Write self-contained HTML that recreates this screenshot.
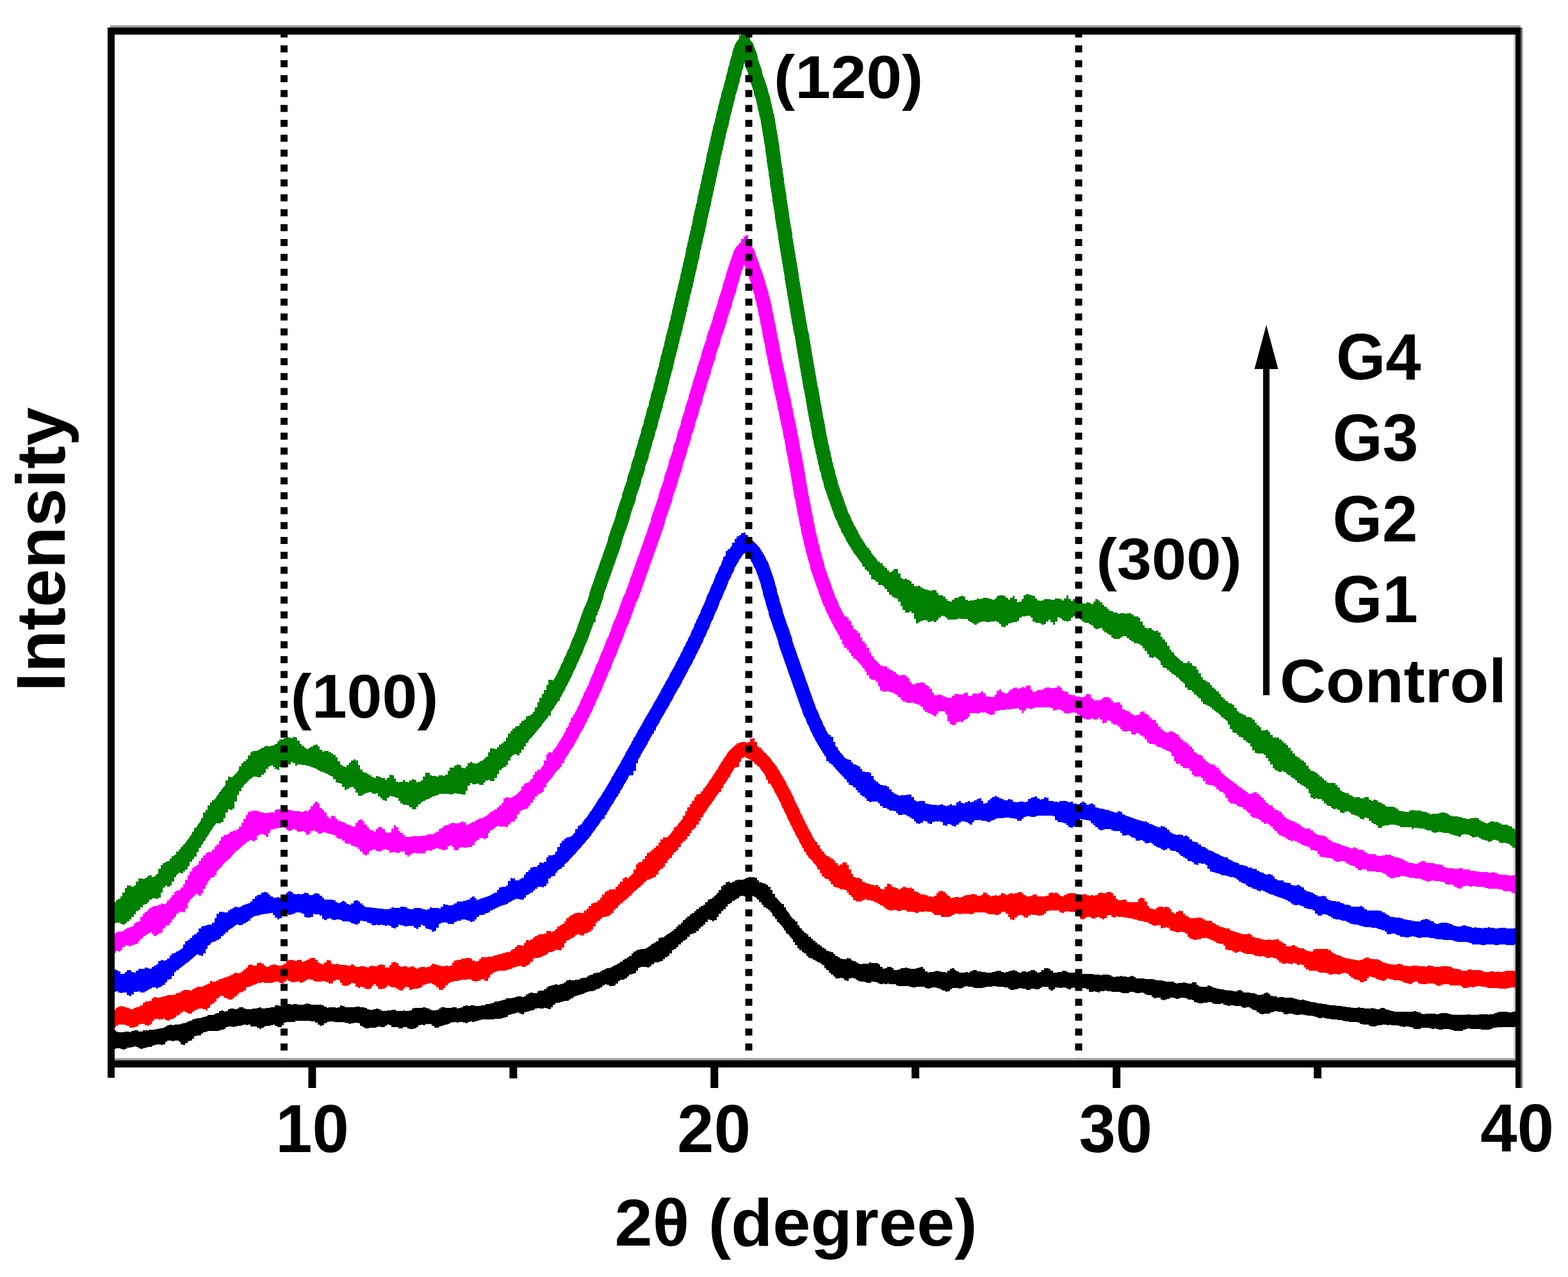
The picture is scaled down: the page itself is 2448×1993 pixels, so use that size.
<!DOCTYPE html>
<html><head><meta charset="utf-8"><title>XRD</title>
<style>html,body{margin:0;padding:0;background:#fff;} svg{display:block;}</style>
</head><body>
<svg width="2448" height="1993" viewBox="0 0 2448 1993">
<rect width="2448" height="1993" fill="#fff"/>
<rect x="2363" y="54" width="3" height="1597" fill="#cfcfcf"/>
<defs><clipPath id="pc"><rect x="179" y="53" width="2187" height="1602"/></clipPath></defs>
<g clip-path="url(#pc)" fill="none" stroke-linejoin="bevel" stroke-linecap="butt">
<g stroke="#000000"><path d="M172 1622l3 0l3 0l3 0l3 0l3 0l3 0l3 0l3 0l3 0l3 0l3 0l3 0l3-1l3 0l3 0l3-1l3 0l3 0l3-1l3 0l3-1l3 0l3-1l3 0l3-1l3 0l2-1l3 0l3-1l3-1l3 0l3-1l3-1l3 0l3-1l3-1l3 0l3-1l3-1l3 0l2-1l3-1l3 0l3-1l3-1l3-1l3 0l3-1l3-1l3 0l3-1l3-1l2 0l3-1l3-1l3 0l3-1l3-1l3 0l3-1l3-1l3 0l3-1l3 0l3-1l3 0l3-1l3 0l3-1l3 0l2-1l3 0l3 0l3-1l3 0l3-1l3 0l3 0l3 0l3-1l3 0l3 0l3 0l3 0l3-1l3 0l3 0l3 0l3 0l3 0l3 0l3 0l3 0l3 0l3 0l3-1l3 0l3 0l3 1l3 0l3 0l3 0l3 0l3 0l3 0l3 0l3 0l3 0l3 0l3 0l3 0l3 1l3 0l3 0l3 0l3 0l3 0l3 0l3 1l3 0l3 0l3 0l3 0l3 0l3 0l3 1l3 0l3 0l3 0l3 0l3 0l3 1l3 0l3 0l3 0l3 0l3 0l3 0l3 0l3 1l3 0l3 0l3 0l3 0l3 0l3 0l3 0l3 0l3 0l3 0l3 0l3 0l3 0l3 0l3 0l3 0l3 0l3 0l3 0l3 0l3 0l3 0l3 0l3 0l3 0l3 0l3 0l3 0l3-1l3 0l3 0l3 0l3 0l3-1l3 0l3 0l3 0l3 0l3-1l3 0l3 0l3-1l3 0l3 0l3 0l3-1l3 0l3 0l3-1l3 0l3-1l3 0l3 0l3-1l3 0l3-1l3 0l3-1l3 0l3-1l3 0l2-1l3 0l3-1l3 0l3-1l3 0l3-1l3 0l3-1l3-1l3 0l3-1l3 0l3-1l3-1l3 0l2-1l3-1l3-1l3 0l3-1l3-1l3 0l3-1l3-1l3-1l3-1l2 0l3-1l3-1l3-1l3-1l3-1l3-1l3 0l2-1l3-1l3-1l3-1l3-1l3-1l2-1l3-1l3-1l3-1l3-1l3-1l2-1l3-1l3-1l3-1l3-2l2-1l3-1l3-1l3-1l2-1l3-1l3-2l3-1l2-1l3-1l3-2l3-1l2-1l3-1l3-2l2-1l3-1l3-2l3-1l2-1l3-2l3-1l2-1l3-2l2-1l3-2l3-1l2-2l3-1l3-2l2-1l3-2l2-1l3-2l2-1l3-2l3-1l2-2l3-2l2-1l3-2l2-1l3-2l2-2l3-1l2-2l3-2l2-2l3-1l2-2l3-2l2-1l2-2l3-2l2-2l3-2l2-1l2-2l3-2l2-2l2-2l3-2l2-1l3-2l2-2l2-2l2-2l3-2l2-2l2-2l3-2l2-2l2-2l2-2l3-2l2-2l2-2l2-2l3-2l2-2l2-2l2-2l2-2l3-2l2-2l2-2l3-2l2-1l2-2l3-2l3-1l2-1l3-1l3-1l3 0l3-1l3 1l3 0l3 1l3 1l3 1l2 1l3 2l2 1l3 2l2 2l3 1l2 2l2 2l2 2l3 3l2 2l2 2l2 2l2 2l2 3l2 2l1 2l2 3l2 2l2 2l2 3l2 2l1 3l2 2l2 2l2 3l2 2l2 2l1 3l2 2l2 2l2 3l2 2l2 2l2 2l2 3l2 2l3 2l2 2l2 2l2 2l2 2l3 2l2 2l2 2l3 2l2 1l2 2l3 2l2 2l3 1l2 2l3 1l3 2l2 1l3 2l3 1l2 1l3 2l3 1l2 1l3 1l3 1l3 1l3 1l3 1l2 1l3 1l3 1l3 1l3 0l3 1l3 1l3 0l3 1l3 1l3 0l2 1l3 0l3 1l3 0l3 1l3 0l3 0l3 1l3 0l3 0l3 1l3 0l3 0l3 0l3 1l3 0l3 0l3 0l3 0l3 1l3 0l3 0l3 0l3 0l3 0l3 0l3 0l3 1l3 0l3 0l3 0l3 0l3 0l3 0l3 0l3 0l3 0l3 0l3 0l3 0l3 1l3 0l3 0l3 0l3 0l3 0l3 0l3 0l3 0l3 0l3 0l3 0l3 0l3 0l3 0l3 0l3 0l3 0l3 0l3 0l3 0l3 0l3 0l3 0l3 0l3 0l3 0l3 0l3 0l3 0l3 0l3 0l3 0l3 0l3 1l3 0l3 0l3 0l3 0l3 0l3 0l3 0l3 0l3 0l3 0l3 0l3 0l3 0l3 0l3 0l3 0l3 0l3 0l3 0l3 0l3 0l3 0l3 1l3 0l3 0l3 0l3 0l3 0l3 0l3 0l3 0l3 0l3 1l3 0l3 0l3 0l3 0l3 0l3 0l3 1l3 0l3 0l3 0l3 0l3 0l3 1l3 0l3 0l3 0l3 0l3 1l3 0l3 0l3 0l3 1l3 0l3 0l3 0l3 1l3 0l3 0l3 0l3 1l3 0l3 0l3 1l3 0l3 0l3 1l3 0l3 0l3 0l3 1l3 0l3 0l3 1l3 0l3 1l3 0l3 0l3 1l3 0l3 0l2 1l3 0l3 0l3 1l3 0l3 1l3 0l3 0l3 1l3 0l3 1l3 0l3 0l3 1l3 0l3 1l3 0l3 0l3 1l3 0l3 1l3 0l3 0l3 1l3 0l3 1l3 0l3 1l3 0l3 0l3 1l3 0l3 1l3 0l3 1l2 0l3 1l3 0l3 0l3 1l3 0l3 1l3 0l3 1l3 0l3 0l3 1l3 0l3 1l3 0l3 1l3 0l3 1l3 0l3 0l3 1l3 0l3 1l3 0l3 1l3 0l3 0l3 1l3 0l3 1l3 0l3 1l2 0l3 0l3 1l3 0l3 1l3 0l3 0l3 1l3 0l3 1l3 0l3 0l3 1l3 0l3 1l3 0l3 0l3 1l3 0l3 0l3 1l3 0l3 1l3 0l3 0l3 1l3 0l3 0l3 1l3 0l3 0l3 1l3 0l3 0l3 1l3 0l3 0l3 1l3 0l3 0l3 0l3 1l3 0l3 0l3 1l3 0l3 0l3 0l2 1l3 0l3 0l3 0l3 1l3 0l3 0l3 0l3 0l3 1l3 0l3 0l3 0l3 0l3 0l3 1l3 0l3 0l3 0l3 0l3 0l3 0l3 1l3 0l3 0l3 0l3 0l3 0l3 0l3 0l3 0l3 0l3 0l3 0l3 0l3 0l3 0l3 0l3 0l3 0l3 0l3 0l3 0l3 0l3 0l3 0l3 0l3 0l3 0l3 0l3 0l3-1l3 0l3 0l3 0l3 0l3 0l3-1l3 0l3 0l3 0l3 0l3-1l3 0l3 0l3 0l3-1l3 0" stroke-width="20.5" stroke-linejoin="round"/><path d="M170 1606l4 0l3 0l0 2l4 0l0 2l3 0l0 1l4 0l3 0l4 0l0-1l3 0l4 0l0 1l3 0l0-2l4 0l0-1l3 0l4 0l0 2l3 0l4 0l0-2l3 0l4 0l3 0l0-1l4 0l0 1l3 0l0-1l4 0l3 0l4 0l0-1l3 0l0-2l4 0l0-2l3 0l0-2l4 0l0-1l3 0l0 1l4 0l0-1l3 0l4 0l3 0l4 0l0-1l3 0l0-2l4 0l0-2l3 0l0-1l4 0l0-2l3 0l0-1l4 0l0-1l3 0l4 0l0-1l3 0l0-1l4 0l0-1l3 0l0-2l4 0l3 0l4 0l0-2l3 0l0-1l4 0l0-3l3 0l0-1l4 0l0 2l3 0l0-1l4 0l0-3l3 0l0-1l4 0l3 0l0 1l4 0l0-1l3 0l0-2l4 0l3 0l0 2l4 0l0 1l3 0l4 0l3 0l0-1l4 0l3 0l0-1l4 0l0-1l3 0l0 2l4 0l3 0l0-1l4 0l3 0l0-1l4 0l3 0l0-3l4 0l3 0l0 1l4 0l3 0l0-1l4 0l0-2l3 0l4 0l0 1l3 0l0-1l4 0l3 0l0 1l4 0l3 0l4 0l0-1l3 0l0-1l4 0l0 1l3 0l0 1l4 0l3 0l4 0l3 0l4 0l0 1l3 0l0 2l4 0l0 2l3 0l0-1l4 0l3 0l4 0l0 1l3 0l0-1l4 0l0-3l3 0l0 1l4 0l0 2l3 0l4 0l3 0l4 0l3 0l0-1l4 0l3 0l0 1l4 0l3 0l0 1l4 0l0 2l3 0l0 1l4 0l3 0l0-1l4 0l0-1l3 0l0 1l4 0l0 2l3 0l0 2l4 0l0-1l3 0l0-1l4 0l3 0l0-1l4 0l3 0l0 2l4 0l0 1l3 0l4 0l0-2l3 0l0 1l4 0l0 1l3 0l0-2l4 0l0-3l3 0l0-1l4 0l3 0l4 0l3 0l0-1l4 0l0 1l3 0l0 1l4 0l0 2l3 0l0 1l4 0l0 1l3 0l0-2l4 0l0-2l3 0l0-2l4 0l3 0l0 1l4 0l3 0l4 0l0-1l3 0l4 0l0 2l3 0l0-1l4 0l0-1l3 0l0-2l4 0l0-1l3 0l0 1l4 0l0-1l3 0l4 0l0 1l3 0l4 0l3 0l0-1l4 0l3 0l0-2l4 0l3 0l0-1l4 0l0-1l3 0l0-2l4 0l3 0l0-1l4 0l0-1l3 0l0-1l4 0l0-2l3 0l4 0l3 0l0-1l4 0l0-1l3 0l0-1l4 0l3 0l0 1l4 0l0-1l3 0l0-3l4 0l0-2l3 0l0-1l4 0l0 1l3 0l4 0l0-3l3 0l0-1l4 0l3 0l0-2l4 0l0-3l3 0l0-2l4 0l0-1l3 0l0-1l4 0l0-1l3 0l0 1l4 0l0-1l3 0l0-1l4 0l0-2l3 0l0-3l4 0l0-1l3 0l0 1l4 0l3 0l0-1l4 0l3 0l0-2l4 0l0-1l3 0l4 0l0-2l3 0l0-2l4 0l0-1l3 0l0-2l4 0l0-1l3 0l4 0l0-2l3 0l0-2l4 0l0-2l3 0l0-1l4 0l3 0l0-1l4 0l0-2l3 0l0-2l4 0l0-2l3 0l0-3l4 0l0-3l3 0l0-2l4 0l0-2l3 0l0-2l4 0l0-4l3 0l0-3l4 0l0-2l3 0l0-1l4 0l0-1l3 0l4 0l0 1l3 0l0-2l4 0l0-4l3 0l0-3l4 0l0-2l3 0l0-2l4 0l0-5l3 0l0-1l4 0l0 1l3 0l0-3l4 0l0-2l3 0l0-3l4 0l0-3l3 0l0-3l4 0l0-4l3 0l0-3l4 0l0-3l3 0l0-4l4 0l0-3l3 0l0-3l4 0l0-3l3 0l0-2l4 0l0-3l3 0l0-3l4 0l0-3l3 0l0-2l4 0l0-2l3 0l0-4l4 0l0-4l3 0l0-1l4 0l0-2l3 0l0-3l4 0l0-4l3 0l0-5l4 0l0-6l3 0l0-2l4 0l0-4l3 0l0-1l4 0l0 2l3 0l0-2l4 0l0-2l3 0l0-1l4 0l3 0l4 0l0-1l3 0l0-2l4 0l0-1l3 0l4 0l3 0l0 1l4 0l0 4l3 0l0 3l4 0l0 1l3 0l0 1l4 0l0 2l3 0l0 3l4 0l0 5l3 0l0 6l4 0l0 6l3 0l0 5l4 0l0 3l3 0l0 2l4 0l0 5l3 0l0 7l4 0l0 6l3 0l0 4l4 0l0 2l3 0l0 3l4 0l0 6l3 0l0 5l4 0l0 4l3 0l0 3l4 0l0 2l3 0l0 4l4 0l0 3l3 0l0 3l4 0l0 3l3 0l0 3l4 0l0 2l3 0l0 3l4 0l0 2l3 0l0 3l4 0l0 1l3 0l0 1l4 0l0 3l3 0l0 3l4 0l0 2l3 0l0 2l4 0l0 1l3 0l4 0l0-2l3 0l0 1l4 0l0 3l3 0l0 1l4 0l0 2l3 0l0 2l4 0l0 1l3 0l0-1l4 0l3 0l4 0l0-2l3 0l0 1l4 0l3 0l4 0l0 2l3 0l0 4l4 0l0 3l3 0l0-1l4 0l0-2l3 0l4 0l0 2l3 0l0 3l4 0l3 0l0-1l4 0l0-2l3 0l4 0l0-1l3 0l0 1l4 0l0 1l3 0l4 0l3 0l0-1l4 0l0-1l3 0l0-1l4 0l0 3l3 0l0 4l4 0l0 2l3 0l0-1l4 0l3 0l0-1l4 0l0-1l3 0l0 1l4 0l0 1l3 0l4 0l0 1l3 0l0-3l4 0l0-3l3 0l0-1l4 0l0 3l3 0l0 2l4 0l0 2l3 0l4 0l3 0l0-1l4 0l0 1l3 0l0-2l4 0l0-2l3 0l4 0l0 2l3 0l4 0l0 1l3 0l4 0l0 1l3 0l4 0l3 0l0-1l4 0l0-1l3 0l0-1l4 0l3 0l0 2l4 0l0 1l3 0l0-1l4 0l0-1l3 0l0-1l4 0l0-1l3 0l0 1l4 0l0 2l3 0l0 1l4 0l0-2l3 0l4 0l0 1l3 0l0-1l4 0l0-2l3 0l4 0l0 2l3 0l0 2l4 0l0-1l3 0l0-3l4 0l0-3l3 0l4 0l0 1l3 0l0 3l4 0l0 3l3 0l4 0l0-1l3 0l4 0l0-2l3 0l4 0l0 2l3 0l0 1l4 0l3 0l4 0l0 1l3 0l0 1l4 0l0 1l3 0l0-1l4 0l3 0l4 0l3 0l4 0l0 1l3 0l4 0l3 0l0 1l4 0l0-1l3 0l4 0l3 0l0 1l4 0l0 2l3 0l0 1l4 0l0-1l3 0l4 0l0-1l3 0l0 1l4 0l3 0l0 1l4 0l0-1l3 0l0-1l4 0l0 2l3 0l0 2l4 0l3 0l4 0l3 0l0 1l4 0l3 0l4 0l3 0l0 1l4 0l0 1l3 0l4 0l3 0l0 1l4 0l0 1l3 0l4 0l3 0l4 0l0 2l3 0l0 1l4 0l0-1l3 0l4 0l0-1l3 0l0 1l4 0l0 1l3 0l4 0l0-2l3 0l4 0l0 4l3 0l0 3l4 0l0 1l3 0l0-1l4 0l3 0l0-2l4 0l0 1l3 0l0 2l4 0l0 1l3 0l0 1l4 0l0 1l3 0l4 0l0 1l3 0l0 1l4 0l3 0l4 0l0 1l3 0l0 1l4 0l0-2l3 0l0-1l4 0l0 2l3 0l0 2l4 0l3 0l4 0l0 1l3 0l4 0l0 1l3 0l0 2l4 0l3 0l0-1l4 0l0-2l3 0l0-1l4 0l0 2l3 0l0 3l4 0l0 1l3 0l4 0l0 2l3 0l0-1l4 0l3 0l0 1l4 0l3 0l4 0l3 0l0 1l4 0l0 1l3 0l0 1l4 0l0 1l3 0l0-1l4 0l0 1l3 0l0 1l4 0l0 1l3 0l0 1l4 0l3 0l0 1l4 0l0 1l3 0l4 0l0 1l3 0l4 0l0 1l3 0l0 1l4 0l3 0l4 0l0 1l3 0l4 0l3 0l0 1l4 0l3 0l0 1l4 0l3 0l0 1l4 0l3 0l4 0l0-1l3 0l0 1l4 0l3 0l0 1l4 0l3 0l4 0l0-1l3 0l0 1l4 0l0 1l3 0l4 0l0-2l3 0l4 0l0 2l3 0l0 1l4 0l0 1l3 0l0 1l4 0l0 1l3 0l4 0l3 0l4 0l3 0l4 0l3 0l4 0l3 0l0-1l4 0l0 1l3 0l0 1l4 0l0 2l3 0l0 1l4 0l0-1l3 0l4 0l3 0l4 0l3 0l0 1l4 0l0-1l3 0l0-1l4 0l3 0l4 0l0 1l3 0l0 1l4 0l0 1l3 0l4 0l3 0l4 0l3 0l4 0l3 0l0-1l4 0l0 1l3 0l4 0l3 0l4 0l0-1l3 0l4 0l3 0l4 0l0 1l3 0l0-1l4 0l3 0l0-2l4 0l0-1l3 0l0-1l4 0l3 0l4 0l3 0l0 1l4 0l3 0l0-1l4 0l0-1l3 0l0 1l4 0l3 0l4 0l0 23l-4 0l-3 0l-4 0l-3 0l0 1l-4 0l-3 0l-4 0l-3 0l-4 0l-3 0l-4 0l-3 0l0 1l-4 0l-3 0l0 2l-4 0l0 1l-3 0l-4 0l-3 0l-4 0l0-1l-3 0l-4 0l-3 0l-4 0l-3 0l0-1l-4 0l0 1l-3 0l0 1l-4 0l0 2l-3 0l-4 0l-3 0l-4 0l0-1l-3 0l0-1l-4 0l0-1l-3 0l-4 0l-3 0l0 1l-4 0l-3 0l0-1l-4 0l0-1l-3 0l0 1l-4 0l0-1l-3 0l0-1l-4 0l-3 0l-4 0l-3 0l0 2l-4 0l-3 0l-4 0l0-2l-3 0l0-1l-4 0l0-1l-3 0l-4 0l0 1l-3 0l0-1l-4 0l0-1l-3 0l0-1l-4 0l-3 0l-4 0l0-1l-3 0l0 1l-4 0l0-1l-3 0l-4 0l0 1l-3 0l-4 0l0 1l-3 0l0 1l-4 0l-3 0l0-1l-4 0l0-2l-3 0l-4 0l-3 0l0-1l-4 0l0-2l-3 0l0-1l-4 0l-3 0l-4 0l-3 0l0-1l-4 0l-3 0l0-1l-4 0l0-1l-3 0l-4 0l0-1l-3 0l-4 0l-3 0l0-1l-4 0l-3 0l0-1l-4 0l0-1l-3 0l0 1l-4 0l-3 0l0-2l-4 0l0-1l-3 0l0-1l-4 0l-3 0l0-1l-4 0l0-1l-3 0l-4 0l-3 0l0 1l-4 0l-3 0l0-1l-4 0l0-1l-3 0l-4 0l0 1l-3 0l-4 0l0-3l-3 0l0-1l-4 0l-3 0l0-1l-4 0l0 1l-3 0l0 1l-4 0l0 2l-3 0l-4 0l-3 0l0 1l-4 0l0-1l-3 0l0-2l-4 0l0-3l-3 0l0-1l-4 0l0-2l-3 0l0-2l-4 0l-3 0l0 1l-4 0l0-1l-3 0l0-2l-4 0l-3 0l-4 0l0-1l-3 0l-4 0l0 1l-3 0l0-1l-4 0l0-1l-3 0l0-2l-4 0l0 1l-3 0l-4 0l-3 0l0-1l-4 0l0-2l-3 0l-4 0l0 1l-3 0l-4 0l0 1l-3 0l-4 0l0-1l-3 0l0-1l-4 0l0-3l-3 0l0-1l-4 0l-3 0l0-2l-4 0l0-1l-3 0l-4 0l0 1l-3 0l0 1l-4 0l0-1l-3 0l0-1l-4 0l-3 0l0 2l-4 0l0 1l-3 0l0 1l-4 0l0-1l-3 0l0-3l-4 0l-3 0l0 1l-4 0l0-2l-3 0l0-3l-4 0l-3 0l0-1l-4 0l0-3l-3 0l-4 0l0 1l-3 0l-4 0l0-1l-3 0l0-1l-4 0l-3 0l0 2l-4 0l-3 0l-4 0l0-1l-3 0l0-1l-4 0l-3 0l-4 0l-3 0l0-1l-4 0l-3 0l0-1l-4 0l0 1l-3 0l-4 0l0 2l-3 0l0-1l-4 0l0-1l-3 0l0 1l-4 0l-3 0l0-4l-4 0l0-2l-3 0l-4 0l0 1l-3 0l0-1l-4 0l0-1l-3 0l0-1l-4 0l0 2l-3 0l0 2l-4 0l0-1l-3 0l0-2l-4 0l-3 0l0 1l-4 0l0-1l-3 0l-4 0l0 3l-3 0l0 2l-4 0l0-2l-3 0l0-4l-4 0l0-1l-3 0l0 1l-4 0l0 2l-3 0l0 2l-4 0l-3 0l0-1l-4 0l-3 0l0 2l-4 0l-3 0l0-2l-4 0l-3 0l0-1l-4 0l0 1l-3 0l0 1l-4 0l0 1l-3 0l-4 0l0-2l-3 0l0-2l-4 0l-3 0l0-1l-4 0l-3 0l-4 0l0-1l-3 0l-4 0l0 1l-3 0l-4 0l-3 0l0 1l-4 0l0 1l-3 0l-4 0l-3 0l-4 0l0-1l-3 0l0-1l-4 0l-3 0l0-1l-4 0l0 1l-3 0l0 2l-4 0l0 1l-3 0l0-1l-4 0l-3 0l-4 0l0 2l-3 0l0 3l-4 0l0 1l-3 0l0-2l-4 0l0-1l-3 0l0-2l-4 0l0-1l-3 0l0-1l-4 0l-3 0l0 1l-4 0l0 1l-3 0l0-1l-4 0l0-2l-3 0l-4 0l-3 0l-4 0l0 1l-3 0l-4 0l0-1l-3 0l0-1l-4 0l-3 0l-4 0l-3 0l-4 0l0-1l-3 0l0-2l-4 0l-3 0l-4 0l0-1l-3 0l0 1l-4 0l0-1l-3 0l0 1l-4 0l0-1l-3 0l0-2l-4 0l0-1l-3 0l-4 0l0 2l-3 0l-4 0l0-1l-3 0l0-1l-4 0l-3 0l0-1l-4 0l0-2l-3 0l0-2l-4 0l0-1l-3 0l0 1l-4 0l0 4l-3 0l0-1l-4 0l0-3l-3 0l0-1l-4 0l0 1l-3 0l-4 0l0-3l-3 0l0-3l-4 0l0-3l-3 0l0-4l-4 0l0-3l-3 0l0-5l-4 0l0-3l-3 0l0-1l-4 0l0-2l-3 0l0-2l-4 0l0-2l-3 0l0-1l-4 0l0-3l-3 0l0-4l-4 0l0-2l-3 0l0-3l-4 0l0-3l-3 0l0-5l-4 0l0-5l-3 0l0-7l-4 0l0-4l-3 0l0-2l-4 0l0-5l-3 0l0-7l-4 0l0-4l-3 0l0-2l-4 0l0-5l-3 0l0-4l-4 0l0-6l-3 0l0-4l-4 0l0-2l-3 0l0-2l-4 0l0-4l-3 0l0-4l-4 0l0-4l-3 0l0-4l-4 0l0-2l-3 0l0 1l-4 0l-3 0l-4 0l-3 0l0-1l-4 0l0 1l-3 0l0 3l-4 0l0 2l-3 0l0 2l-4 0l0 3l-3 0l0 2l-4 0l0 4l-3 0l0 4l-4 0l0 3l-3 0l0 4l-4 0l0 5l-3 0l0 5l-4 0l0 2l-3 0l0-2l-4 0l0-1l-3 0l0 4l-4 0l0 4l-3 0l0 3l-4 0l0 3l-3 0l0 4l-4 0l0 3l-3 0l0 1l-4 0l0 1l-3 0l0 4l-4 0l0 4l-3 0l0 2l-4 0l0 3l-3 0l0 3l-4 0l0 4l-3 0l0 3l-4 0l0 2l-3 0l0 5l-4 0l0 4l-3 0l0 2l-4 0l0 3l-3 0l0 3l-4 0l0 1l-3 0l0 1l-4 0l-3 0l0 3l-4 0l0 3l-3 0l0 2l-4 0l0-1l-3 0l-4 0l-3 0l0 1l-4 0l0 5l-3 0l0 4l-4 0l0 1l-3 0l0 1l-4 0l0 3l-3 0l0 3l-4 0l0 2l-3 0l-4 0l0 2l-3 0l0 4l-4 0l0 3l-3 0l0 1l-4 0l-3 0l0-2l-4 0l0-1l-3 0l0 2l-4 0l0 3l-3 0l0 2l-4 0l0 1l-3 0l0 2l-4 0l0 1l-3 0l-4 0l0 1l-3 0l0 1l-4 0l0 2l-3 0l0 1l-4 0l0 1l-3 0l-4 0l0 2l-3 0l0 3l-4 0l0 2l-3 0l0 2l-4 0l-3 0l0 1l-4 0l0 1l-3 0l0 1l-4 0l-3 0l0 3l-4 0l0 4l-3 0l0 3l-4 0l0-1l-3 0l0-1l-4 0l0 1l-3 0l-4 0l0-1l-3 0l0 1l-4 0l0 2l-3 0l0 1l-4 0l0 1l-3 0l0 1l-4 0l0 1l-3 0l0 3l-4 0l0-1l-3 0l0-2l-4 0l0 1l-3 0l0 1l-4 0l0 1l-3 0l0 1l-4 0l0 3l-3 0l0 1l-4 0l0 1l-3 0l0 1l-4 0l-3 0l-4 0l0 1l-3 0l-4 0l-3 0l-4 0l-3 0l-4 0l0 1l-3 0l0 1l-4 0l0 1l-3 0l0 1l-4 0l0-1l-3 0l0 1l-4 0l0 2l-3 0l0-1l-4 0l0-1l-3 0l-4 0l0 1l-3 0l0-1l-4 0l-3 0l-4 0l0 3l-3 0l0 1l-4 0l0 1l-3 0l0 1l-4 0l0 1l-3 0l0 2l-4 0l-3 0l0-3l-4 0l0-3l-3 0l0-1l-4 0l0 1l-3 0l0 2l-4 0l0-1l-3 0l0 1l-4 0l0 3l-3 0l0 2l-4 0l0 1l-3 0l-4 0l0-1l-3 0l0-2l-4 0l-3 0l0 2l-4 0l-3 0l0-2l-4 0l-3 0l-4 0l0-3l-3 0l0-1l-4 0l0 2l-3 0l0 2l-4 0l-3 0l0-1l-4 0l0 1l-3 0l0 1l-4 0l-3 0l-4 0l0 1l-3 0l-4 0l0-2l-3 0l0-2l-4 0l0-4l-3 0l0-1l-4 0l-3 0l0 1l-4 0l0 1l-3 0l0-1l-4 0l0-1l-3 0l0-1l-4 0l0-1l-3 0l-4 0l0 1l-3 0l0-1l-4 0l-3 0l-4 0l0 1l-3 0l0 2l-4 0l0 3l-3 0l0 1l-4 0l0-2l-3 0l0-3l-4 0l0-2l-3 0l-4 0l0-1l-3 0l0-1l-4 0l0-1l-3 0l0-1l-4 0l0 1l-3 0l-4 0l0 2l-3 0l0 2l-4 0l-3 0l-4 0l-3 0l0 1l-4 0l0 4l-3 0l0 3l-4 0l-3 0l0-2l-4 0l0-2l-3 0l0 1l-4 0l0 1l-3 0l-4 0l0 1l-3 0l0 2l-4 0l0 2l-3 0l0-2l-4 0l0-2l-3 0l-4 0l-3 0l0-3l-4 0l0 1l-3 0l0-1l-4 0l0 1l-3 0l0 1l-4 0l-3 0l0 1l-4 0l0 1l-3 0l0-1l-4 0l0-1l-3 0l0 2l-4 0l0 3l-3 0l0 1l-4 0l0 1l-3 0l0 1l-4 0l-3 0l-4 0l-3 0l-4 0l0 1l-3 0l0 1l-4 0l0 2l-3 0l0 3l-4 0l-3 0l0 1l-4 0l0 4l-3 0l0 3l-4 0l0 1l-3 0l0 3l-4 0l0 3l-3 0l0-1l-4 0l0-4l-3 0l0-2l-4 0l-3 0l0 1l-4 0l0-1l-3 0l-4 0l0 2l-3 0l0 4l-4 0l0 1l-3 0l0-1l-4 0l-3 0l0 1l-4 0l0 1l-3 0l0 2l-4 0l-3 0l0 1l-4 0l0 1l-3 0l0 1l-4 0l0-1l-3 0l0-2l-4 0l0-1l-3 0l0 1l-4 0l0 1l-3 0l-4 0l0 2l-3 0l0 1l-4 0l0-1l-3 0l0-1l-4 0l-3 0l0 1l-4 0l0 2l-3 0l0-1l-4 0z" stroke="none" fill="#000000"/></g>
<g stroke="#ff0000"><path d="M172 1588l3 0l3 0l3 0l3 0l3 0l3 0l3 0l3-1l3 0l3 0l3-1l3 0l3 0l3-1l3 0l2-1l3 0l3-1l3-1l3 0l3-1l3-1l3-1l3 0l3-1l3-1l2-1l3-1l3-1l3-1l3-1l3-1l2-1l3-1l3-1l3-1l3-1l3-1l2-1l3-1l3-1l3-1l3-1l2-2l3-1l3-1l3-1l2-1l3-1l3-1l3-1l3-2l2-1l3-1l3-1l3-1l2-1l3-1l3-1l3-1l3-1l2-1l3-2l3-1l3-1l3-1l3 0l2-1l3-1l3-1l3-1l3-1l3-1l3-1l3 0l3-1l2-1l3 0l3-1l3-1l3 0l3-1l3 0l3-1l3 0l3-1l3 0l3 0l3-1l3 0l3 0l3-1l3 0l3 0l3 0l3-1l3 0l3 0l3 0l3 0l3 0l3 0l3 0l3 0l3 0l3 0l3 0l3 0l3 0l3 0l3 0l3 0l3 0l3 0l3 0l3 0l3 0l3 1l3 0l3 0l3 0l3 0l3 0l3 1l3 0l3 0l3 0l3 0l3 0l3 1l3 0l3 0l3 0l3 0l3 1l3 0l3 0l3 0l3 0l3 1l3 0l3 0l3 0l3 0l3 1l3 0l3 0l3 0l3 0l3 0l3 0l3 0l3 1l3 0l3 0l3 0l3 0l3 0l3 0l3 0l3 0l3 0l3 0l3 0l3 0l3 0l3 0l3 0l3 0l3-1l3 0l3 0l3 0l3 0l3-1l3 0l3 0l3 0l3-1l3 0l2 0l3-1l3 0l3-1l3 0l3-1l3 0l3-1l3 0l3-1l3 0l3-1l3-1l3 0l3-1l3-1l3 0l3-1l2-1l3-1l3 0l3-1l3-1l3-1l3-1l3-1l2-1l3 0l3-1l3-1l3-1l3-1l2-1l3-1l3-1l3-2l3-1l2-1l3-1l3-1l3-1l3-1l2-2l3-1l3-1l3-1l2-1l3-2l3-1l2-1l3-2l3-1l2-1l3-2l3-1l2-1l3-2l3-1l2-2l3-1l3-2l2-1l3-2l2-1l3-2l3-1l2-2l3-1l2-2l3-1l2-2l3-2l2-1l3-2l3-1l2-2l3-2l2-1l2-2l3-2l2-2l3-1l2-2l3-2l2-2l3-1l2-2l2-2l3-2l2-2l3-1l2-2l2-2l3-2l2-2l2-2l3-2l2-1l2-2l3-2l2-2l2-2l2-2l3-2l2-2l2-2l2-2l3-2l2-2l2-2l2-2l2-2l3-2l2-2l2-2l2-2l2-3l2-2l3-2l2-2l2-2l2-2l2-2l2-2l2-3l2-2l2-2l2-2l2-2l3-3l2-2l2-2l2-2l2-2l2-3l2-2l1-2l2-2l2-3l2-2l2-2l2-3l2-2l2-2l2-3l2-2l2-2l1-3l2-2l2-2l2-3l2-2l2-3l1-2l2-2l2-3l2-2l2-3l1-2l2-2l2-3l2-2l1-3l2-2l2-3l2-2l1-3l2-2l2-2l1-3l2-2l2-3l1-2l2-3l2-2l1-3l2-2l2-3l1-2l2-3l2-2l1-3l2-2l2-3l1-3l2-2l1-3l2-2l2-3l1-2l2-3l2-2l1-3l2-2l2-2l2-2l3-2l2-2l3-1l3 0l3 0l3 0l3 1l2 2l3 1l2 2l3 2l2 2l2 2l3 2l2 2l2 2l2 2l2 3l1 2l2 2l2 3l2 2l1 3l2 2l2 3l1 2l2 3l1 3l2 2l1 3l2 2l1 3l1 3l2 2l1 3l2 3l1 2l1 3l2 3l1 2l1 3l1 3l2 3l1 2l1 3l2 3l1 2l1 3l1 3l2 3l1 2l1 3l2 3l1 2l1 3l2 3l1 2l1 3l2 3l1 2l2 3l1 3l1 2l2 3l1 2l2 3l2 3l1 2l2 3l2 2l1 3l2 2l2 2l2 3l2 2l2 2l2 3l2 2l2 2l2 2l2 2l2 2l2 2l3 2l2 2l2 2l3 2l2 1l3 2l2 2l3 1l2 2l3 2l2 1l3 2l3 1l2 1l3 2l3 1l2 1l3 1l3 2l3 1l2 1l3 1l3 1l3 1l3 1l2 1l3 1l3 1l3 1l3 1l3 0l3 1l3 1l3 1l2 0l3 1l3 1l3 0l3 1l3 1l3 0l3 1l3 0l3 1l3 0l3 1l3 0l3 0l3 1l3 0l3 0l3 1l3 0l3 0l3 1l3 0l3 0l3 0l3 0l3 1l3 0l3 0l3 0l3 0l3 0l3 0l3 0l3 0l3 0l3 0l3 0l3 0l3 0l3 0l3 0l3 0l3 0l3 0l3 0l3 0l3 0l3 0l3 0l3 0l3 0l3 0l3-1l3 0l3 0l3 0l3 0l3 0l3 0l3 0l3 0l3-1l3 0l3 0l3 0l3 0l3 0l3 0l3 0l3-1l3 0l3 0l3 0l3 0l3 0l3 0l3 0l3 0l3 0l3 0l3 0l3 0l3 0l3 0l3 0l3 0l3 0l3 0l3 0l3 0l3 0l3 0l3 0l3 0l3 0l3 0l3 1l3 0l3 0l3 0l3 0l3 1l3 0l3 0l3 0l2 1l3 0l3 0l3 1l3 0l3 0l3 1l3 0l3 1l3 0l3 1l3 0l3 1l3 0l3 1l3 0l3 1l3 0l3 1l3 0l3 1l3 0l3 1l3 1l3 0l2 1l3 1l3 0l3 1l3 1l3 0l3 1l3 1l3 0l3 1l3 1l3 1l2 0l3 1l3 1l3 1l3 0l3 1l3 1l3 1l3 0l3 1l2 1l3 1l3 1l3 0l3 1l3 1l3 1l3 1l3 1l2 0l3 1l3 1l3 1l3 1l3 1l3 0l3 1l2 1l3 1l3 1l3 1l3 1l3 0l3 1l3 1l2 1l3 1l3 1l3 0l3 1l3 1l3 1l3 1l3 1l2 1l3 0l3 1l3 1l3 1l3 1l3 1l3 0l2 1l3 1l3 1l3 1l3 0l3 1l3 1l3 1l3 0l3 1l2 1l3 1l3 0l3 1l3 1l3 1l3 0l3 1l3 1l3 1l3 0l2 1l3 1l3 0l3 1l3 0l3 1l3 1l3 0l3 1l3 1l3 0l3 1l3 0l3 1l3 1l2 0l3 1l3 0l3 1l3 0l3 1l3 0l3 1l3 0l3 1l3 0l3 1l3 0l3 1l3 0l3 1l3 0l3 1l3 0l3 1l3 0l3 0l3 1l3 0l3 1l3 0l2 1l3 0l3 0l3 1l3 0l3 0l3 1l3 0l3 0l3 1l3 0l3 1l3 0l3 0l3 0l3 1l3 0l3 0l3 1l3 0l3 0l3 1l3 0l3 0l3 0l3 1l3 0l3 0l3 0l3 1l3 0l3 0l3 0l3 1l3 0l3 0l3 0l3 1l3 0l3 0l3 0l3 0l3 1l3 0l3 0l3 0l3 0l3 0l3 1l3 0l3 0l3 0l3 0l3 0l3 1l3 0l3 0l3 0l3 0l3 0l3 0l3 1l3 0l3 0l3 0l3 0l3 0l3 0l3 0l3 0l3 1l3 0l3 0l3 0l3 0l3 0l3 0l3 0" stroke-width="22" stroke-linejoin="round"/><path d="M170 1576l4 0l3 0l4 0l0-3l3 0l0-2l4 0l0-1l3 0l0 1l4 0l0 1l3 0l0 1l4 0l0 2l3 0l4 0l0-2l3 0l0-1l4 0l0-1l3 0l0-2l4 0l0-4l3 0l0-2l4 0l3 0l0-1l4 0l0-4l3 0l0-2l4 0l0 1l3 0l4 0l0-1l3 0l0-1l4 0l0-1l3 0l0-1l4 0l3 0l4 0l0-1l3 0l0-2l4 0l0-1l3 0l0-2l4 0l0-2l3 0l4 0l3 0l0 1l4 0l0-2l3 0l0-2l4 0l0-2l3 0l4 0l3 0l0 1l4 0l0-1l3 0l0-5l4 0l0-4l3 0l0 1l4 0l3 0l0-2l4 0l0-2l3 0l4 0l3 0l0-2l4 0l0-2l3 0l0-2l4 0l0-2l3 0l0-2l4 0l0 1l3 0l0 1l4 0l0-4l3 0l0-3l4 0l0-3l3 0l0-4l4 0l0-1l3 0l0 2l4 0l3 0l0-4l4 0l0-1l3 0l0 2l4 0l0 3l3 0l0 2l4 0l0-1l3 0l0-2l4 0l0-1l3 0l0 1l4 0l0 1l3 0l0 1l4 0l0-2l3 0l0-2l4 0l0-4l3 0l0-2l4 0l3 0l0 1l4 0l0 1l3 0l0-2l4 0l3 0l0 3l4 0l0-1l3 0l0-2l4 0l0-2l3 0l0-1l4 0l3 0l0 3l4 0l0 4l3 0l0 2l4 0l0 1l3 0l0-3l4 0l0-4l3 0l0 1l4 0l0 5l3 0l0 1l4 0l0-1l3 0l0 1l4 0l0 1l3 0l4 0l3 0l0 1l4 0l3 0l0-2l4 0l0 2l3 0l0 3l4 0l3 0l0-2l4 0l3 0l0 1l4 0l0 1l3 0l0-2l4 0l0-1l3 0l0 1l4 0l3 0l0-2l4 0l0-1l3 0l0 1l4 0l0 4l3 0l4 0l0-4l3 0l0-4l4 0l0-1l3 0l0 2l4 0l0 4l3 0l0 2l4 0l0-1l3 0l4 0l0 2l3 0l0-1l4 0l0-1l3 0l0 2l4 0l0 2l3 0l0-2l4 0l0-1l3 0l4 0l0 1l3 0l0-1l4 0l0-2l3 0l0-3l4 0l0 1l3 0l0 1l4 0l0 1l3 0l0 1l4 0l3 0l0-1l4 0l0 1l3 0l0-1l4 0l0-5l3 0l0-3l4 0l0-1l3 0l4 0l0-2l3 0l4 0l0-1l3 0l4 0l0 1l3 0l0 3l4 0l0 2l3 0l0-1l4 0l0-3l3 0l0-3l4 0l3 0l4 0l0-1l3 0l4 0l0-1l3 0l0-1l4 0l0-1l3 0l0-1l4 0l0-1l3 0l0-1l4 0l0-1l3 0l4 0l0-3l3 0l0-2l4 0l0-3l3 0l0-3l4 0l3 0l0 1l4 0l0-4l3 0l0-5l4 0l0 1l3 0l0-2l4 0l0-3l3 0l0-2l4 0l0-2l3 0l0-1l4 0l3 0l0-1l4 0l0-4l3 0l4 0l0 2l3 0l0-2l4 0l0-3l3 0l0-4l4 0l0-2l3 0l0-2l4 0l0-4l3 0l0-5l4 0l0-3l3 0l0-2l4 0l0-2l3 0l0-1l4 0l0-1l3 0l0 1l4 0l3 0l0-4l4 0l0-3l3 0l0-4l4 0l0-4l3 0l0-1l4 0l0-1l3 0l0-3l4 0l0-4l3 0l0-5l4 0l0-4l3 0l0-2l4 0l0-2l3 0l4 0l3 0l0-4l4 0l0-4l3 0l0-4l4 0l0-5l3 0l0-2l4 0l0 2l3 0l0-3l4 0l0-3l3 0l0-8l4 0l0-8l3 0l0-3l4 0l0-1l3 0l0-4l4 0l0-5l3 0l0-5l4 0l0-2l3 0l0-3l4 0l0-3l3 0l0-3l4 0l0-5l3 0l0-5l4 0l0-3l3 0l4 0l0-1l3 0l0-3l4 0l0-6l3 0l0-6l4 0l0-2l3 0l0-3l4 0l0-6l3 0l0-7l4 0l0-7l3 0l0-6l4 0l0-5l3 0l0-5l4 0l0-6l3 0l0-4l4 0l0-1l3 0l0-4l4 0l0-5l3 0l0-3l4 0l0-2l3 0l0-6l4 0l0-5l3 0l0-4l4 0l0-4l3 0l0-7l4 0l0-9l3 0l0-6l4 0l0-3l3 0l0-5l4 0l0-5l3 0l0-4l4 0l0-4l3 0l0-3l4 0l0-1l3 0l0-1l4 0l3 0l0 1l4 0l0-1l3 0l0-5l4 0l0-1l3 0l0 6l4 0l0 7l3 0l0 2l4 0l0 4l3 0l0 4l4 0l0 5l3 0l0 4l4 0l0 5l3 0l0 3l4 0l0 4l3 0l0 7l4 0l0 8l3 0l0 8l4 0l0 7l3 0l0 9l4 0l0 8l3 0l0 8l4 0l0 8l3 0l0 7l4 0l0 3l3 0l0 7l4 0l0 7l3 0l0 6l4 0l0 8l3 0l0 7l4 0l0 6l3 0l0 3l4 0l0 1l3 0l0 5l4 0l0 6l3 0l0 4l4 0l0 5l3 0l0 2l4 0l0 2l3 0l0 2l4 0l0 3l3 0l0 4l4 0l0 4l3 0l0-2l4 0l0-3l3 0l4 0l0 4l3 0l0 7l4 0l0 7l3 0l0 5l4 0l0 1l3 0l4 0l0 2l3 0l0 4l4 0l0 2l3 0l0 1l4 0l0 1l3 0l0 1l4 0l0 1l3 0l0-1l4 0l0 3l3 0l0 4l4 0l0 1l3 0l0-5l4 0l0-5l3 0l0 1l4 0l0 4l3 0l0 1l4 0l0 1l3 0l0 2l4 0l0-2l3 0l0-2l4 0l0 1l3 0l0 1l4 0l0-1l3 0l0 2l4 0l0 4l3 0l0 1l4 0l0 2l3 0l0 2l4 0l3 0l0 1l4 0l0 2l3 0l4 0l0 1l3 0l0-2l4 0l0-4l3 0l0-3l4 0l0-1l3 0l0 2l4 0l0 3l3 0l0 3l4 0l0 3l3 0l4 0l0-1l3 0l4 0l0 1l3 0l0-1l4 0l0-2l3 0l0-1l4 0l3 0l0-1l4 0l0-1l3 0l0 1l4 0l0 2l3 0l4 0l0-2l3 0l0-3l4 0l0 1l3 0l0 3l4 0l0 2l3 0l0-1l4 0l0-1l3 0l0 1l4 0l0-1l3 0l0-3l4 0l0 1l3 0l0 2l4 0l0-2l3 0l0-1l4 0l0 1l3 0l0-1l4 0l0-1l3 0l0-1l4 0l0 2l3 0l0 3l4 0l0 2l3 0l4 0l0-1l3 0l0-2l4 0l3 0l0 3l4 0l3 0l4 0l3 0l0-1l4 0l0-4l3 0l0-1l4 0l0 1l3 0l0-1l4 0l0 2l3 0l0 3l4 0l0 1l3 0l0-2l4 0l0-2l3 0l0-1l4 0l3 0l4 0l0 1l3 0l0 1l4 0l0 1l3 0l0-1l4 0l0-1l3 0l0 2l4 0l0 1l3 0l0-1l4 0l0 1l3 0l0-1l4 0l0-3l3 0l0-1l4 0l0 1l3 0l4 0l0-2l3 0l4 0l0 2l3 0l0 4l4 0l0 5l3 0l0 2l4 0l3 0l0-1l4 0l3 0l0 4l4 0l3 0l4 0l3 0l4 0l0-5l3 0l0-2l4 0l0 1l3 0l0 5l4 0l0 7l3 0l0 4l4 0l0 2l3 0l0 1l4 0l0-4l3 0l0-2l4 0l3 0l0 1l4 0l0-1l3 0l0 1l4 0l0 3l3 0l0 5l4 0l0 2l3 0l0-3l4 0l0-2l3 0l0 1l4 0l0 4l3 0l0 3l4 0l0 2l3 0l0 2l4 0l3 0l4 0l0-1l3 0l4 0l0 1l3 0l0 2l4 0l0 2l3 0l4 0l3 0l0 3l4 0l0 2l3 0l0 2l4 0l0 2l3 0l0 1l4 0l0 1l3 0l0 1l4 0l3 0l0 3l4 0l0 2l3 0l0 2l4 0l3 0l0 1l4 0l0 1l3 0l4 0l3 0l0-1l4 0l0 2l3 0l0 3l4 0l0 2l3 0l4 0l0 1l3 0l0 1l4 0l0 1l3 0l4 0l0-1l3 0l0 1l4 0l3 0l0-1l4 0l3 0l0 3l4 0l0 2l3 0l0 2l4 0l0 4l3 0l4 0l0-1l3 0l0-1l4 0l0 2l3 0l0 2l4 0l0 1l3 0l4 0l0 2l3 0l0 2l4 0l0 1l3 0l4 0l0-3l3 0l0-1l4 0l3 0l4 0l3 0l4 0l3 0l0 2l4 0l0 3l3 0l0 2l4 0l0 2l3 0l0 1l4 0l0 1l3 0l0 2l4 0l0 1l3 0l0 1l4 0l0 2l3 0l0 1l4 0l0 1l3 0l4 0l3 0l0-2l4 0l0-1l3 0l0-2l4 0l0-1l3 0l0 2l4 0l0 1l3 0l4 0l3 0l0 1l4 0l0 2l3 0l0 2l4 0l0 1l3 0l0 1l4 0l0 1l3 0l4 0l0 1l3 0l0-1l4 0l0-1l3 0l0 1l4 0l0 2l3 0l4 0l0 1l3 0l4 0l0-1l3 0l4 0l3 0l0 1l4 0l3 0l4 0l0 1l3 0l0-2l4 0l3 0l0 1l4 0l0 1l3 0l4 0l3 0l0-1l4 0l3 0l4 0l3 0l0 1l4 0l0 2l3 0l0 1l4 0l3 0l0 1l4 0l0 2l3 0l0 1l4 0l0-1l3 0l0-2l4 0l3 0l0 1l4 0l3 0l4 0l3 0l0 1l4 0l0 2l3 0l4 0l3 0l0-1l4 0l3 0l0 1l4 0l0-1l3 0l0 1l4 0l3 0l0-1l4 0l0-1l3 0l4 0l3 0l4 0l0 1l3 0l4 0l3 0l0 1l4 0l0 26l-4 0l-3 0l-4 0l0-1l-3 0l0-1l-4 0l-3 0l0 1l-4 0l0 1l-3 0l-4 0l-3 0l-4 0l0-1l-3 0l-4 0l-3 0l-4 0l-3 0l0-1l-4 0l0-1l-3 0l-4 0l0-1l-3 0l-4 0l0 1l-3 0l0 1l-4 0l0-1l-3 0l0 1l-4 0l0 1l-3 0l-4 0l0-2l-3 0l0-2l-4 0l-3 0l-4 0l-3 0l-4 0l0-2l-3 0l0-1l-4 0l-3 0l0 2l-4 0l0 2l-3 0l0-1l-4 0l0-2l-3 0l0-1l-4 0l-3 0l-4 0l0 1l-3 0l-4 0l-3 0l0-1l-4 0l0-3l-3 0l-4 0l0 2l-3 0l0 2l-4 0l0-1l-3 0l0-1l-4 0l0-1l-3 0l0-2l-4 0l0-1l-3 0l-4 0l-3 0l0-1l-4 0l0-1l-3 0l0-1l-4 0l0 2l-3 0l0 2l-4 0l0-1l-3 0l0-1l-4 0l0-1l-3 0l0-2l-4 0l0-1l-3 0l0-1l-4 0l0 3l-3 0l0 4l-4 0l0 2l-3 0l-4 0l0-3l-3 0l0-1l-4 0l0-1l-3 0l0-2l-4 0l0-3l-3 0l0-3l-4 0l0-2l-3 0l0 1l-4 0l0 1l-3 0l0 1l-4 0l0-1l-3 0l-4 0l0 1l-3 0l-4 0l0-2l-3 0l0-1l-4 0l-3 0l-4 0l0-1l-3 0l0-2l-4 0l-3 0l-4 0l-3 0l0-2l-4 0l0-3l-3 0l0-4l-4 0l0-1l-3 0l0 1l-4 0l0-2l-3 0l0-1l-4 0l0 2l-3 0l0-1l-4 0l0-1l-3 0l0 1l-4 0l-3 0l0-2l-4 0l0-3l-3 0l0-3l-4 0l0-1l-3 0l0-1l-4 0l0 1l-3 0l-4 0l0-2l-3 0l0-1l-4 0l0 1l-3 0l0-1l-4 0l-3 0l0-2l-4 0l0-1l-3 0l-4 0l-3 0l0-1l-4 0l0-2l-3 0l0-1l-4 0l0 1l-3 0l0 1l-4 0l0-2l-3 0l0-2l-4 0l-3 0l0-1l-4 0l0-6l-3 0l0-3l-4 0l-3 0l0-1l-4 0l0-2l-3 0l0-2l-4 0l0-2l-3 0l0-2l-4 0l-3 0l-4 0l-3 0l0 2l-4 0l-3 0l0 1l-4 0l0-1l-3 0l0-1l-4 0l0-3l-3 0l0-5l-4 0l0-2l-3 0l0-1l-4 0l0 1l-3 0l-4 0l0-1l-3 0l0-1l-4 0l0-1l-3 0l0-4l-4 0l0-1l-3 0l0 1l-4 0l0 1l-3 0l0-5l-4 0l-3 0l0 1l-4 0l0-1l-3 0l0-2l-4 0l0-2l-3 0l0-2l-4 0l-3 0l0-2l-4 0l0 1l-3 0l0-2l-4 0l0-2l-3 0l0-1l-4 0l-3 0l-4 0l0-2l-3 0l-4 0l0 1l-3 0l-4 0l0-1l-3 0l0 2l-4 0l0-1l-3 0l0-3l-4 0l0 1l-3 0l0 4l-4 0l0 2l-3 0l0-2l-4 0l0-2l-3 0l0 1l-4 0l0 2l-3 0l0-1l-4 0l0-2l-3 0l-4 0l0 2l-3 0l0 2l-4 0l0-1l-3 0l0-5l-4 0l0-4l-3 0l0-2l-4 0l-3 0l-4 0l0-1l-3 0l0 1l-4 0l0 2l-3 0l0-1l-4 0l0-4l-3 0l-4 0l0 1l-3 0l-4 0l-3 0l0 1l-4 0l0 4l-3 0l0 2l-4 0l0 1l-3 0l-4 0l0-1l-3 0l-4 0l0-1l-3 0l0 2l-4 0l0 3l-3 0l-4 0l0-3l-3 0l0-1l-4 0l0 1l-3 0l0 3l-4 0l0 4l-3 0l0-1l-4 0l0-4l-3 0l0-5l-4 0l0-4l-3 0l0 1l-4 0l0 3l-3 0l0 2l-4 0l-3 0l0-1l-4 0l-3 0l-4 0l0-2l-3 0l0-1l-4 0l0-1l-3 0l0 1l-4 0l-3 0l-4 0l0 2l-3 0l0 1l-4 0l0-1l-3 0l-4 0l-3 0l-4 0l0 1l-3 0l0-1l-4 0l-3 0l0 2l-4 0l0 2l-3 0l0 1l-4 0l-3 0l-4 0l-3 0l0-3l-4 0l-3 0l-4 0l0-3l-3 0l0-2l-4 0l-3 0l0-1l-4 0l0 1l-3 0l-4 0l-3 0l0 2l-4 0l0-1l-3 0l0-1l-4 0l-3 0l-4 0l0-2l-3 0l0-1l-4 0l0 1l-3 0l0 1l-4 0l0-1l-3 0l0-1l-4 0l0 1l-3 0l-4 0l0-1l-3 0l0-2l-4 0l0-3l-3 0l0-2l-4 0l0-2l-3 0l0-2l-4 0l0-2l-3 0l0-1l-4 0l0-1l-3 0l-4 0l0-2l-3 0l0 2l-4 0l0 2l-3 0l-4 0l-3 0l0-2l-4 0l0-5l-3 0l0-3l-4 0l0-4l-3 0l0-4l-4 0l0-1l-3 0l-4 0l0-2l-3 0l0-1l-4 0l0-1l-3 0l0-4l-4 0l0-5l-3 0l0-3l-4 0l0-1l-3 0l0-3l-4 0l0-5l-3 0l0-6l-4 0l0-8l-3 0l0-4l-4 0l0-4l-3 0l0-2l-4 0l0-4l-3 0l0-6l-4 0l0-6l-3 0l0-8l-4 0l0-10l-3 0l0-9l-4 0l0-8l-3 0l0-8l-4 0l0-7l-3 0l0-6l-4 0l0-8l-3 0l0-9l-4 0l0-7l-3 0l0-7l-4 0l0-6l-3 0l0-4l-4 0l0-2l-3 0l0-1l-4 0l0-6l-3 0l0-10l-4 0l0-6l-3 0l0-4l-4 0l0-1l-3 0l0-3l-4 0l0-4l-3 0l0-3l-4 0l0-1l-3 0l0-2l-4 0l0-2l-3 0l0 2l-4 0l0 6l-3 0l0 8l-4 0l0 1l-3 0l0 1l-4 0l0 5l-3 0l0 9l-4 0l0 5l-3 0l0 5l-4 0l0 7l-3 0l0 6l-4 0l0 3l-3 0l0 2l-4 0l0 5l-3 0l0 5l-4 0l0 4l-3 0l0 4l-4 0l0 8l-3 0l0 8l-4 0l0 6l-3 0l0 6l-4 0l0 5l-3 0l0 3l-4 0l0 5l-3 0l0 5l-4 0l0 5l-3 0l0 3l-4 0l0 3l-3 0l0 6l-4 0l0 5l-3 0l0 3l-4 0l0 4l-3 0l0 5l-4 0l0 3l-3 0l0 5l-4 0l0 6l-3 0l0 3l-4 0l0 3l-3 0l0 6l-4 0l0 4l-3 0l0 1l-4 0l0 2l-3 0l0 1l-4 0l0 1l-3 0l0 2l-4 0l0 6l-3 0l0 3l-4 0l0 2l-3 0l0 3l-4 0l0 4l-3 0l0 4l-4 0l0 3l-3 0l0 3l-4 0l0 3l-3 0l0 3l-4 0l0 3l-3 0l0 4l-4 0l0 3l-3 0l0 5l-4 0l0 3l-3 0l0 2l-4 0l0 1l-3 0l-4 0l0 3l-3 0l0 3l-4 0l0 3l-3 0l0 6l-4 0l0 5l-3 0l0 3l-4 0l0 2l-3 0l0 1l-4 0l0 3l-3 0l-4 0l0-2l-3 0l0 1l-4 0l0 3l-3 0l0 2l-4 0l0 2l-3 0l0 2l-4 0l0 4l-3 0l0 7l-4 0l0 4l-3 0l-4 0l0-1l-3 0l0 2l-4 0l0 2l-3 0l-4 0l0 3l-3 0l0 2l-4 0l0 1l-3 0l0 2l-4 0l0 1l-3 0l-4 0l0 1l-3 0l0 5l-4 0l0 4l-3 0l0 2l-4 0l0 2l-3 0l-4 0l0-2l-3 0l0 1l-4 0l0 1l-3 0l0 1l-4 0l0 2l-3 0l0 1l-4 0l0 1l-3 0l0 1l-4 0l-3 0l-4 0l-3 0l0 1l-4 0l0 2l-3 0l0 3l-4 0l0 5l-3 0l0 5l-4 0l0-1l-3 0l0-2l-4 0l0 2l-3 0l0 1l-4 0l0 1l-3 0l0-1l-4 0l0-2l-3 0l0-1l-4 0l0 1l-3 0l-4 0l-3 0l0 1l-4 0l0 1l-3 0l-4 0l0 1l-3 0l0 1l-4 0l0 2l-3 0l0 3l-4 0l0 4l-3 0l0 3l-4 0l-3 0l0-4l-4 0l0-3l-3 0l0-2l-4 0l0-2l-3 0l0 1l-4 0l0 1l-3 0l0 1l-4 0l0 3l-3 0l0 2l-4 0l0 1l-3 0l-4 0l0 1l-3 0l0 1l-4 0l0-4l-3 0l0-1l-4 0l0 3l-3 0l0 3l-4 0l0-1l-3 0l0-2l-4 0l0-2l-3 0l-4 0l0-1l-3 0l0-2l-4 0l0 3l-3 0l0 2l-4 0l0 1l-3 0l0-1l-4 0l0-4l-3 0l0-3l-4 0l0 3l-3 0l0 4l-4 0l0 1l-3 0l0-1l-4 0l0-2l-3 0l0-1l-4 0l0 2l-3 0l0-2l-4 0l0-5l-3 0l0-1l-4 0l0 2l-3 0l0 2l-4 0l0 1l-3 0l0-1l-4 0l0-4l-3 0l0-5l-4 0l0-1l-3 0l0 3l-4 0l0 4l-3 0l-4 0l0-2l-3 0l0-1l-4 0l0-1l-3 0l0 1l-4 0l-3 0l-4 0l0-1l-3 0l0-2l-4 0l0-1l-3 0l0 1l-4 0l0 2l-3 0l0 2l-4 0l0 1l-3 0l0-2l-4 0l-3 0l0 1l-4 0l-3 0l0-2l-4 0l0-2l-3 0l0 3l-4 0l0 3l-3 0l0-1l-4 0l0-2l-3 0l-4 0l0 1l-3 0l0 1l-4 0l-3 0l-4 0l-3 0l0-1l-4 0l0 1l-3 0l-4 0l0 2l-3 0l0 1l-4 0l0 2l-3 0l0 1l-4 0l0 1l-3 0l0 5l-4 0l0 2l-3 0l0 1l-4 0l0 3l-3 0l0 3l-4 0l0 3l-3 0l0 2l-4 0l-3 0l0-2l-4 0l0-1l-3 0l0-3l-4 0l0 1l-3 0l0 3l-4 0l0 5l-3 0l0 3l-4 0l0 2l-3 0l0 5l-4 0l0 4l-3 0l0-2l-4 0l0-1l-3 0l-4 0l0 1l-3 0l0 2l-4 0l0 2l-3 0l0 3l-4 0l-3 0l0-2l-4 0l0-2l-3 0l0 2l-4 0l0 3l-3 0l0 2l-4 0l0 3l-3 0l0 2l-4 0l0 1l-3 0l0 2l-4 0l0-1l-3 0l0-2l-4 0l0 1l-3 0l-4 0l0-1l-3 0l0 1l-4 0l0 3l-3 0l0 5l-4 0l0 2l-3 0l0-1l-4 0l0-2l-3 0l-4 0l0 1l-3 0l0 3l-4 0l0 1l-3 0l0 1l-4 0l-3 0l0-3l-4 0l0-1l-3 0l0-1l-4 0l-3 0l-4 0l0 2l-3 0l0 2l-4 0l0 1l-3 0l0 1l-4 0z" stroke="none" fill="#ff0000"/></g>
<g stroke="#0000ff"><path d="M171 1533l3 0l3 1l3 0l3 0l3 0l3 0l3 0l3 0l3 0l3-1l3 0l3 0l3-1l3-1l3 0l3-1l3-1l3-1l2-1l3-1l3-1l3-1l3-1l2-1l3-2l3-1l2-1l3-2l3-1l2-2l3-1l2-2l3-2l2-1l3-2l2-2l3-1l2-2l3-2l2-2l2-2l3-1l2-2l2-2l3-2l2-2l2-2l3-2l2-1l2-2l3-2l2-2l2-2l3-2l2-2l2-2l3-2l2-2l2-1l3-2l2-2l2-2l3-2l2-2l3-1l2-2l2-2l3-2l2-1l3-2l2-2l3-1l2-2l3-2l2-1l3-2l3-1l2-2l3-1l3-1l2-1l3-2l3-1l3-1l3-1l2-1l3-1l3 0l3-1l3-1l3 0l3-1l3 0l3-1l3 0l3-1l3 0l3 0l3 0l3 0l3-1l3 0l3 0l3 0l3 0l3 0l3 1l3 0l3 0l3 0l3 0l3 1l3 0l3 0l3 0l3 1l3 0l3 0l3 1l3 0l3 0l3 1l3 0l3 1l3 0l2 0l3 1l3 0l3 1l3 0l3 1l3 0l3 0l3 1l3 0l3 1l3 0l3 1l3 0l3 1l3 0l3 0l3 1l3 0l3 1l3 0l3 0l3 1l3 0l3 0l3 1l3 0l3 0l3 1l3 0l3 0l3 0l3 1l3 0l3 0l3 0l3 0l3 1l3 0l3 0l3 0l3 0l3 0l3 0l3 0l3 0l3 0l3 0l3 0l3 0l3-1l3 0l3 0l3 0l3-1l3 0l3 0l3-1l3 0l2 0l3-1l3 0l3-1l3 0l3-1l3 0l3-1l3-1l3 0l3-1l3-1l3 0l3-1l3-1l2-1l3-1l3 0l3-1l3-1l3-1l3-1l2-1l3-1l3-1l3-1l3-1l3-1l2-1l3-2l3-1l3-1l2-1l3-1l3-2l3-1l2-1l3-2l3-1l2-1l3-2l3-1l2-2l3-1l2-1l3-2l3-2l2-1l3-2l2-1l3-2l2-2l3-1l2-2l3-2l2-1l2-2l3-2l2-2l3-2l2-2l2-1l3-2l2-2l2-2l2-2l3-2l2-2l2-2l2-2l2-2l3-2l2-3l2-2l2-2l2-2l2-2l2-2l2-3l2-2l2-2l2-2l2-3l2-2l2-2l2-3l2-2l2-2l1-3l2-2l2-2l2-3l2-2l1-3l2-2l2-2l2-3l1-2l2-3l2-2l2-3l1-2l2-3l2-2l1-3l2-2l1-3l2-2l2-3l1-2l2-3l1-2l2-3l2-3l1-2l2-3l1-2l2-3l1-2l2-3l1-3l2-2l1-3l2-2l1-3l2-3l1-2l2-3l1-2l2-3l1-3l2-2l1-3l2-3l1-2l1-3l2-2l1-3l2-3l1-2l2-3l1-3l2-2l1-3l2-2l1-3l2-3l1-2l1-3l2-2l1-3l2-3l1-2l2-3l1-3l2-2l1-3l2-2l1-3l2-3l1-2l2-3l1-2l2-3l1-3l2-2l1-3l2-2l1-3l2-3l1-2l2-3l1-3l1-2l2-3l1-2l2-3l1-3l2-2l1-3l2-2l1-3l1-3l2-2l1-3l2-3l1-2l2-3l1-3l1-2l2-3l1-3l2-2l1-3l1-3l2-2l1-3l1-3l2-2l1-3l1-3l2-2l1-3l1-3l2-2l1-3l1-3l1-3l2-2l1-3l1-3l1-3l2-2l1-3l1-3l1-3l1-2l2-3l1-3l1-3l1-2l1-3l2-3l1-3l1-2l1-3l1-3l1-3l1-2l2-3l1-3l1-3l1-2l1-3l2-3l1-3l1-3l1-2l1-3l1-3l2-3l1-2l1-3l1-3l2-2l1-3l1-3l1-3l2-2l1-3l2-2l1-3l2-3l2-2l1-2l2-3l2-2l2-2l3-2l2-2l3 0l3 0l3 2l2 2l2 2l2 2l2 2l1 3l2 2l2 3l1 3l2 2l1 3l1 3l2 2l1 3l1 3l1 3l1 2l1 3l1 3l1 3l1 3l1 3l1 3l0 2l1 3l1 3l1 3l0 3l1 3l1 3l1 3l1 3l0 2l1 3l1 3l1 3l1 3l1 3l0 3l1 3l1 2l1 3l1 3l1 3l1 3l1 3l1 3l1 2l1 3l1 3l1 3l1 3l1 3l1 2l0 3l1 3l1 3l1 3l1 3l1 2l1 3l1 3l1 3l1 3l1 3l1 2l1 3l1 3l1 3l1 3l1 3l1 3l1 2l1 3l1 3l1 3l1 3l1 3l1 2l1 3l1 3l1 3l1 3l1 3l1 2l1 3l1 3l1 3l1 3l1 2l1 3l1 3l1 3l1 3l2 2l1 3l1 3l1 3l1 2l2 3l1 3l1 3l1 2l2 3l1 3l1 2l2 3l1 3l2 2l1 3l2 2l1 3l2 3l2 2l1 3l2 2l2 3l1 2l2 2l2 3l2 2l2 2l2 3l2 2l2 2l2 3l2 2l2 2l2 2l2 2l2 2l2 2l3 2l2 2l2 2l2 2l3 2l2 2l2 2l3 1l2 2l3 2l2 2l3 1l2 2l3 1l2 2l3 2l3 1l2 2l3 1l2 1l3 2l3 1l2 1l3 2l3 1l3 1l2 1l3 1l3 2l3 1l3 1l2 1l3 1l3 1l3 0l3 1l3 1l3 1l3 1l2 0l3 1l3 1l3 0l3 1l3 1l3 0l3 1l3 0l3 0l3 1l3 0l3 1l3 0l3 0l3 0l3 0l3 1l3 0l3 0l3 0l3 0l3 0l3 0l3 0l3 0l3 0l3-1l3 0l3 0l3 0l3 0l3 0l3-1l3 0l3 0l3 0l3 0l3-1l3 0l3 0l3-1l3 0l3 0l3 0l3-1l3 0l3 0l3 0l3-1l3 0l3 0l3 0l3-1l3 0l3 0l3 0l3 0l3-1l3 0l3 0l3 0l3 0l3 0l3 0l3 0l3 0l3 0l3 0l3 0l3 0l3 0l3 0l3 1l3 0l3 0l3 0l3 1l2 0l3 0l3 1l3 0l3 0l3 1l3 0l3 1l3 0l3 1l3 0l3 1l3 0l3 1l3 1l3 0l3 1l3 1l3 0l3 1l2 1l3 1l3 0l3 1l3 1l3 1l3 1l3 0l3 1l2 1l3 1l3 1l3 1l3 1l3 1l2 1l3 1l3 1l3 1l3 1l3 1l2 1l3 1l3 1l3 1l3 1l2 1l3 1l3 2l3 1l3 1l2 1l3 1l3 1l3 1l2 2l3 1l3 1l3 1l2 1l3 2l3 1l3 1l2 1l3 2l3 1l3 1l2 1l3 2l3 1l2 1l3 1l3 2l3 1l2 1l3 1l3 2l2 1l3 1l3 1l3 2l2 1l3 1l3 2l2 1l3 1l3 1l3 2l2 1l3 1l3 2l2 1l3 1l3 1l3 2l2 1l3 1l3 1l3 2l2 1l3 1l3 1l2 2l3 1l3 1l3 1l2 2l3 1l3 1l3 1l2 1l3 2l3 1l3 1l2 1l3 1l3 1l3 2l2 1l3 1l3 1l3 1l3 1l2 1l3 1l3 1l3 2l3 1l2 1l3 1l3 1l3 1l3 1l2 1l3 1l3 1l3 1l3 1l3 1l2 1l3 1l3 1l3 1l3 1l3 1l3 1l2 0l3 1l3 1l3 1l3 1l3 1l3 1l2 1l3 0l3 1l3 1l3 1l3 1l3 1l3 0l3 1l2 1l3 1l3 0l3 1l3 1l3 1l3 0l3 1l3 1l3 0l3 1l2 1l3 0l3 1l3 1l3 0l3 1l3 1l3 0l3 1l3 0l3 1l3 1l3 0l3 1l3 0l3 1l3 0l2 1l3 0l3 1l3 0l3 1l3 0l3 1l3 0l3 1l3 0l3 0l3 1l3 0l3 0l3 1l3 0l3 1l3 0l3 0l3 1l3 0l3 0l3 0l3 1l3 0l3 0l3 0l3 1l3 0l3 0l3 0l3 1l3 0l3 0l3 0l3 0l3 0l3 1l3 0l3 0l3 0l3 0l3 0l3 0l3 0l3 0l3 0l3 0l3 0l3 0l3 0l3 0l3 0l3 0l3 0l3 0l3 0l3 0l3 0l3 0" stroke-width="22" stroke-linejoin="round"/><path d="M170 1515l4 0l0-2l3 0l4 0l0 1l3 0l0 2l4 0l0 4l3 0l4 0l0-3l3 0l0-3l4 0l3 0l0 3l4 0l0 1l3 0l0-3l4 0l0-3l3 0l4 0l3 0l0-2l4 0l0 1l3 0l0 1l4 0l0-3l3 0l0-2l4 0l0-2l3 0l0-5l4 0l0-2l3 0l0 1l4 0l0 1l3 0l0-4l4 0l0-5l3 0l0-3l4 0l0-1l3 0l0-2l4 0l0-2l3 0l0-2l4 0l0-7l3 0l0-5l4 0l0-2l3 0l0-3l4 0l0-4l3 0l0-2l4 0l0-3l3 0l0-6l4 0l0-3l3 0l0-1l4 0l0-1l3 0l0-1l4 0l3 0l0-3l4 0l0-7l3 0l0-7l4 0l0-3l3 0l4 0l0 1l3 0l4 0l0-3l3 0l0-2l4 0l0-2l3 0l0-2l4 0l0 1l3 0l4 0l0-1l3 0l0-3l4 0l0-1l3 0l0-1l4 0l0-3l3 0l0-4l4 0l0-4l3 0l0-2l4 0l0-1l3 0l0-3l4 0l0-1l3 0l0 1l4 0l0 3l3 0l0 3l4 0l0 2l3 0l4 0l0-1l3 0l0 2l4 0l0-1l3 0l0-4l4 0l0-4l3 0l0-2l4 0l0 1l3 0l0 3l4 0l0 1l3 0l0-1l4 0l0 1l3 0l0-1l4 0l0-2l3 0l0 1l4 0l0 3l3 0l4 0l0-2l3 0l0-1l4 0l0 1l3 0l0 3l4 0l0 3l3 0l0 3l4 0l3 0l4 0l3 0l0 1l4 0l0 3l3 0l0 2l4 0l0-2l3 0l0-2l4 0l0 2l3 0l0 3l4 0l0 1l3 0l0-2l4 0l0-4l3 0l0-1l4 0l0 2l3 0l0 3l4 0l0 3l3 0l0 3l4 0l0 1l3 0l4 0l3 0l0 1l4 0l0 1l3 0l0-1l4 0l0 2l3 0l0 1l4 0l0-1l3 0l0-1l4 0l0-1l3 0l0-2l4 0l0 1l3 0l4 0l3 0l0-2l4 0l3 0l0 1l4 0l0 2l3 0l0 1l4 0l3 0l0-2l4 0l3 0l4 0l0 1l3 0l0 1l4 0l0 2l3 0l0-2l4 0l0-3l3 0l0 1l4 0l3 0l4 0l0 1l3 0l0-3l4 0l0-4l3 0l0 1l4 0l0 1l3 0l4 0l0-1l3 0l0-2l4 0l0-3l3 0l4 0l3 0l0-1l4 0l0-1l3 0l0-1l4 0l0-3l3 0l0-2l4 0l0 3l3 0l0 4l4 0l0-2l3 0l0-2l4 0l0 2l3 0l0-2l4 0l0-1l3 0l0-3l4 0l0-3l3 0l0-2l4 0l0-4l3 0l0-4l4 0l0-1l3 0l4 0l0-2l3 0l0-7l4 0l0-5l3 0l0 1l4 0l0 3l3 0l4 0l0-2l3 0l0-2l4 0l0-5l3 0l0-4l4 0l0-3l3 0l0-4l4 0l0-1l3 0l4 0l0-3l3 0l0-4l4 0l0 1l3 0l0-2l4 0l0-7l3 0l0-3l4 0l3 0l0-1l4 0l0-5l3 0l0-7l4 0l0-6l3 0l0-4l4 0l0-3l3 0l0-2l4 0l0-1l3 0l0-1l4 0l0-4l3 0l0-7l4 0l0-5l3 0l0-2l4 0l0-4l3 0l0-3l4 0l0-2l3 0l0-4l4 0l0-5l3 0l0-5l4 0l0-7l3 0l0-6l4 0l0-6l3 0l0-4l4 0l0-3l3 0l0-5l4 0l0-5l3 0l0-5l4 0l0-7l3 0l0-7l4 0l0-6l3 0l0-5l4 0l0-6l3 0l0-6l4 0l0-7l3 0l0-9l4 0l0-9l3 0l0-10l4 0l0-6l3 0l0-5l4 0l0-3l3 0l0-4l4 0l0-5l3 0l0-6l4 0l0-6l3 0l0-6l4 0l0-8l3 0l0-8l4 0l0-7l3 0l0-7l4 0l0-5l3 0l0-4l4 0l0-5l3 0l0-8l4 0l0-8l3 0l0-7l4 0l0-7l3 0l0-9l4 0l0-5l3 0l0-4l4 0l0-7l3 0l0-6l4 0l0-9l3 0l0-12l4 0l0-10l3 0l0-7l4 0l0-7l3 0l0-8l4 0l0-7l3 0l0-6l4 0l0-6l3 0l0-9l4 0l0-7l3 0l0-9l4 0l0-8l3 0l0-7l4 0l0-11l3 0l0-13l4 0l0-9l3 0l0-3l4 0l0-3l3 0l0-7l4 0l0-6l3 0l0-4l4 0l0-2l3 0l0-3l4 0l0-1l3 0l0 4l4 0l0 3l3 0l0 5l4 0l0 4l3 0l0 6l4 0l0 7l3 0l0 5l4 0l0 8l3 0l0 5l4 0l0 6l3 0l0 11l4 0l0 14l3 0l0 16l4 0l0 14l3 0l0 12l4 0l0 10l3 0l0 7l4 0l0 5l3 0l0 10l4 0l0 10l3 0l0 11l4 0l0 15l3 0l0 16l4 0l0 13l3 0l0 8l4 0l0 8l3 0l0 7l4 0l0 7l3 0l0 6l4 0l0 8l3 0l0 9l4 0l0 8l3 0l0 9l4 0l0 10l3 0l0 8l4 0l0 6l3 0l0 4l4 0l0 1l3 0l0 3l4 0l0 8l3 0l0 8l4 0l0 6l3 0l0 5l4 0l0 5l3 0l0 2l4 0l0 1l3 0l0 1l4 0l0 4l3 0l0 3l4 0l0 1l3 0l0 2l4 0l0 4l3 0l0 4l4 0l0 1l3 0l4 0l0 1l3 0l0 5l4 0l0 6l3 0l0 3l4 0l0 3l3 0l0 2l4 0l0 1l3 0l4 0l0 2l3 0l0 4l4 0l0 4l3 0l0 3l4 0l0 2l3 0l0 1l4 0l0-1l3 0l4 0l3 0l0-1l4 0l3 0l0 4l4 0l0 5l3 0l0 2l4 0l0-1l3 0l4 0l3 0l0 4l4 0l0 1l3 0l0 1l4 0l0 1l3 0l4 0l3 0l0-1l4 0l0-1l3 0l0 2l4 0l0 1l3 0l0-1l4 0l0-2l3 0l0 2l4 0l3 0l0-5l4 0l0-2l3 0l0 3l4 0l0 1l3 0l0-2l4 0l0-2l3 0l0 2l4 0l0-1l3 0l0-2l4 0l0-2l3 0l0-1l4 0l0 4l3 0l0 4l4 0l0-1l3 0l0-4l4 0l0-3l3 0l0-2l4 0l0-2l3 0l0 2l4 0l0 2l3 0l0 1l4 0l0 2l3 0l4 0l0-2l3 0l0 1l4 0l0 3l3 0l0 1l4 0l3 0l0-1l4 0l3 0l0 1l4 0l0-1l3 0l0-4l4 0l0-2l3 0l0-1l4 0l0-1l3 0l0 3l4 0l0 2l3 0l0-1l4 0l0-3l3 0l0 1l4 0l0 5l3 0l4 0l0 1l3 0l0 2l4 0l3 0l0-3l4 0l3 0l4 0l0 1l3 0l0 1l4 0l0-1l3 0l0 3l4 0l0 3l3 0l4 0l0-4l3 0l0-2l4 0l0 2l3 0l0 3l4 0l0-1l3 0l0-1l4 0l0 2l3 0l0 5l4 0l0 2l3 0l0-1l4 0l0 1l3 0l0 1l4 0l3 0l0 2l4 0l0 3l3 0l0 1l4 0l0-2l3 0l0-2l4 0l0 1l3 0l0 4l4 0l0 2l3 0l0 2l4 0l0 3l3 0l0 1l4 0l0-1l3 0l0 1l4 0l0 1l3 0l0 1l4 0l0 1l3 0l4 0l0 2l3 0l0 2l4 0l0 1l3 0l0 2l4 0l0 2l3 0l4 0l0-2l3 0l0 1l4 0l0 2l3 0l0 3l4 0l0 4l3 0l0 4l4 0l0 2l3 0l0-2l4 0l0-1l3 0l0 1l4 0l0 2l3 0l0-1l4 0l0 2l3 0l0 4l4 0l0 3l3 0l0 1l4 0l0 1l3 0l0 3l4 0l0 3l3 0l0 1l4 0l0 2l3 0l0 3l4 0l0 3l3 0l0 2l4 0l3 0l0 1l4 0l0 2l3 0l0 2l4 0l0 1l3 0l4 0l0 3l3 0l0 2l4 0l0 2l3 0l0 1l4 0l0 1l3 0l0 3l4 0l3 0l0 1l4 0l0 1l3 0l0 2l4 0l3 0l0 2l4 0l3 0l0 3l4 0l0 2l3 0l0 1l4 0l0 2l3 0l0 1l4 0l0-1l3 0l0 1l4 0l0 3l3 0l0 4l4 0l0 2l3 0l4 0l3 0l0 3l4 0l0 1l3 0l4 0l0 3l3 0l0 1l4 0l3 0l0-1l4 0l0 2l3 0l0 2l4 0l0 4l3 0l0 2l4 0l0 1l3 0l0 1l4 0l0 2l3 0l0 2l4 0l0 2l3 0l4 0l0-1l3 0l0 1l4 0l0 4l3 0l0 2l4 0l0 1l3 0l4 0l0 1l3 0l4 0l0 2l3 0l0 1l4 0l0 2l3 0l4 0l0 1l3 0l0 2l4 0l3 0l4 0l3 0l0-1l4 0l0 2l3 0l0 3l4 0l0 2l3 0l4 0l3 0l4 0l3 0l4 0l0 1l3 0l0 2l4 0l0 2l3 0l0 2l4 0l0 3l3 0l4 0l0 1l3 0l4 0l3 0l0 1l4 0l0 2l3 0l0 1l4 0l0 2l3 0l4 0l3 0l4 0l3 0l4 0l0-2l3 0l0-1l4 0l0-1l3 0l0 1l4 0l0 2l3 0l0 1l4 0l0 3l3 0l0 1l4 0l0-1l3 0l0-1l4 0l3 0l4 0l0 1l3 0l0 1l4 0l0 2l3 0l0 1l4 0l0 1l3 0l4 0l0-1l3 0l0-1l4 0l0 1l3 0l0 1l4 0l0 1l3 0l0 1l4 0l0-1l3 0l0 1l4 0l0 1l3 0l4 0l0-1l3 0l4 0l0-1l3 0l0 1l4 0l3 0l0 1l4 0l3 0l0-1l4 0l3 0l4 0l0 1l3 0l4 0l3 0l4 0l0-1l3 0l4 0l3 0l0 1l4 0l0 22l-4 0l-3 0l-4 0l0 2l-3 0l0 2l-4 0l-3 0l-4 0l-3 0l0-1l-4 0l-3 0l-4 0l0 1l-3 0l-4 0l0-1l-3 0l-4 0l-3 0l-4 0l0 1l-3 0l-4 0l0-1l-3 0l-4 0l-3 0l-4 0l0-2l-3 0l0-1l-4 0l0-1l-3 0l-4 0l-3 0l-4 0l-3 0l0-1l-4 0l0-2l-3 0l0-1l-4 0l-3 0l0 1l-4 0l-3 0l0-1l-4 0l-3 0l-4 0l0-1l-3 0l0-1l-4 0l0-1l-3 0l0-1l-4 0l0 1l-3 0l-4 0l-3 0l0 1l-4 0l0-1l-3 0l0-1l-4 0l0-1l-3 0l0 1l-4 0l0 1l-3 0l-4 0l0-1l-3 0l-4 0l0-2l-3 0l0-1l-4 0l0-2l-3 0l-4 0l0 1l-3 0l-4 0l0-4l-3 0l0-2l-4 0l0-1l-3 0l0-1l-4 0l0-2l-3 0l-4 0l-3 0l0-1l-4 0l-3 0l-4 0l0-1l-3 0l0-1l-4 0l0-1l-3 0l0-1l-4 0l-3 0l0-1l-4 0l0-1l-3 0l0-2l-4 0l0-2l-3 0l-4 0l0-1l-3 0l0-1l-4 0l-3 0l0-1l-4 0l0-2l-3 0l0-2l-4 0l0-2l-3 0l0-1l-4 0l-3 0l0 2l-4 0l-3 0l0-3l-4 0l0-5l-3 0l0-2l-4 0l-3 0l0-1l-4 0l0-1l-3 0l0-3l-4 0l0-1l-3 0l0-1l-4 0l0 1l-3 0l0-1l-4 0l0-2l-3 0l0-3l-4 0l0-2l-3 0l0-2l-4 0l0-2l-3 0l0-2l-4 0l0-1l-3 0l0-1l-4 0l-3 0l0-1l-4 0l0-1l-3 0l0-2l-4 0l0-3l-3 0l0-1l-4 0l0 2l-3 0l0-1l-4 0l0-2l-3 0l0-1l-4 0l0-2l-3 0l0-1l-4 0l0-2l-3 0l0-3l-4 0l0-1l-3 0l0-2l-4 0l0-3l-3 0l0-3l-4 0l0-2l-3 0l0 1l-4 0l0-1l-3 0l0-1l-4 0l0-1l-3 0l-4 0l0-2l-3 0l0-1l-4 0l0-1l-3 0l0-1l-4 0l0-1l-3 0l0-4l-4 0l0-6l-3 0l0-2l-4 0l-3 0l0-1l-4 0l0 3l-3 0l0-1l-4 0l0-3l-3 0l0-2l-4 0l-3 0l0-4l-4 0l0-2l-3 0l0-2l-4 0l0-3l-3 0l0-3l-4 0l0-2l-3 0l-4 0l0-1l-3 0l0-3l-4 0l0 2l-3 0l0 1l-4 0l0-2l-3 0l0-2l-4 0l0-1l-3 0l0-2l-4 0l0-3l-3 0l0-2l-4 0l0 1l-3 0l-4 0l0-3l-3 0l0-2l-4 0l0 1l-3 0l-4 0l0-4l-3 0l0-1l-4 0l0-2l-3 0l0-2l-4 0l0 1l-3 0l-4 0l0-4l-3 0l0-3l-4 0l-3 0l-4 0l0-1l-3 0l0-2l-4 0l-3 0l-4 0l0 1l-3 0l0 1l-4 0l0-2l-3 0l0-3l-4 0l0-3l-3 0l0-3l-4 0l0-4l-3 0l0-2l-4 0l0-2l-3 0l0-1l-4 0l0 2l-3 0l0 5l-4 0l0 5l-3 0l0 2l-4 0l0 2l-3 0l0-1l-4 0l0-3l-3 0l0-3l-4 0l0-1l-3 0l0-1l-4 0l-3 0l0-3l-4 0l0-6l-3 0l0-2l-4 0l-3 0l0-1l-4 0l-3 0l-4 0l-3 0l0 2l-4 0l0 1l-3 0l0 1l-4 0l-3 0l0-1l-4 0l-3 0l0 1l-4 0l0 3l-3 0l0 3l-4 0l-3 0l0-3l-4 0l0-1l-3 0l-4 0l0-1l-3 0l-4 0l0-1l-3 0l0-1l-4 0l0 3l-3 0l-4 0l0 1l-3 0l0 2l-4 0l0 1l-3 0l0 2l-4 0l0-1l-3 0l0-1l-4 0l-3 0l0-2l-4 0l0-2l-3 0l0 1l-4 0l0 5l-3 0l0 4l-4 0l0-2l-3 0l0-2l-4 0l0-1l-3 0l-4 0l0 2l-3 0l0 3l-4 0l0 3l-3 0l0-1l-4 0l0-2l-3 0l0-1l-4 0l0 3l-3 0l0-1l-4 0l0-5l-3 0l0-1l-4 0l-3 0l-4 0l0 1l-3 0l0 3l-4 0l0-1l-3 0l0-3l-4 0l0-1l-3 0l0 3l-4 0l0 2l-3 0l0-1l-4 0l0-3l-3 0l0-4l-4 0l0-2l-3 0l0-2l-4 0l0-2l-3 0l0-1l-4 0l0 1l-3 0l-4 0l0-3l-3 0l0-3l-4 0l0-1l-3 0l-4 0l0-2l-3 0l0-2l-4 0l-3 0l0-3l-4 0l0-4l-3 0l0-3l-4 0l-3 0l-4 0l0 1l-3 0l0-2l-4 0l0-4l-3 0l0-3l-4 0l0-2l-3 0l0-4l-4 0l0-4l-3 0l0-4l-4 0l0-3l-3 0l0-1l-4 0l0-4l-3 0l0-5l-4 0l0-4l-3 0l0-4l-4 0l0-5l-3 0l0-3l-4 0l0-3l-3 0l0-4l-4 0l0-2l-3 0l0-3l-4 0l0-8l-3 0l0-9l-4 0l0-9l-3 0l0-8l-4 0l0-8l-3 0l0-9l-4 0l0-7l-3 0l0-6l-4 0l0-11l-3 0l0-10l-4 0l0-10l-3 0l0-9l-4 0l0-9l-3 0l0-11l-4 0l0-12l-3 0l0-10l-4 0l0-9l-3 0l0-8l-4 0l0-12l-3 0l0-9l-4 0l0-10l-3 0l0-11l-4 0l0-12l-3 0l0-11l-4 0l0-14l-3 0l0-13l-4 0l0-9l-3 0l0-8l-4 0l0-11l-3 0l0-11l-4 0l0-7l-3 0l0-6l-4 0l0-6l-3 0l0-3l-4 0l0-3l-3 0l0-5l-4 0l0-5l-3 0l0 3l-4 0l0 4l-3 0l0 2l-4 0l0 4l-3 0l0 6l-4 0l0 8l-3 0l0 9l-4 0l0 8l-3 0l0 11l-4 0l0 8l-3 0l0 7l-4 0l0 11l-3 0l0 12l-4 0l0 7l-3 0l0 3l-4 0l0 7l-3 0l0 9l-4 0l0 8l-3 0l0 6l-4 0l0 7l-3 0l0 10l-4 0l0 11l-3 0l0 6l-4 0l0 6l-3 0l0 8l-4 0l0 10l-3 0l0 6l-4 0l0 2l-3 0l0 4l-4 0l0 8l-3 0l0 7l-4 0l0 8l-3 0l0 8l-4 0l0 4l-3 0l0 4l-4 0l0 7l-3 0l0 5l-4 0l0 8l-3 0l0 10l-4 0l0 9l-3 0l0 5l-4 0l0 3l-3 0l0 4l-4 0l0 4l-3 0l0 6l-4 0l0 10l-3 0l0 9l-4 0l0 10l-3 0l0 12l-4 0l0 7l-3 0l-4 0l-3 0l0 5l-4 0l0 8l-3 0l0 8l-4 0l0 7l-3 0l0 5l-4 0l0 5l-3 0l0 6l-4 0l0 5l-3 0l0 6l-4 0l0 7l-3 0l0 6l-4 0l0 2l-3 0l0 1l-4 0l0 5l-3 0l0 5l-4 0l0 7l-3 0l0 7l-4 0l0 3l-3 0l0 4l-4 0l0 5l-3 0l0 3l-4 0l0 3l-3 0l0 4l-4 0l0 5l-3 0l0 3l-4 0l0 3l-3 0l0 5l-4 0l0 4l-3 0l0 6l-4 0l0 3l-3 0l0 1l-4 0l0 5l-3 0l0 5l-4 0l0 1l-3 0l0 3l-4 0l0 8l-3 0l0 4l-4 0l0 2l-3 0l0-1l-4 0l-3 0l0 3l-4 0l0 3l-3 0l0 3l-4 0l0 2l-3 0l0 2l-4 0l0 4l-3 0l0 3l-4 0l-3 0l0-1l-4 0l0-1l-3 0l-4 0l0 2l-3 0l0 4l-4 0l0 3l-3 0l0 1l-4 0l0 1l-3 0l0 1l-4 0l0 1l-3 0l0 1l-4 0l0 3l-3 0l0 2l-4 0l0 3l-3 0l0 1l-4 0l0 2l-3 0l0 1l-4 0l-3 0l0 3l-4 0l0 4l-3 0l0 3l-4 0l0 1l-3 0l0-2l-4 0l0-1l-3 0l0-1l-4 0l-3 0l0 2l-4 0l-3 0l0 2l-4 0l0 3l-3 0l-4 0l-3 0l0-2l-4 0l0-1l-3 0l-4 0l0 3l-3 0l0 6l-4 0l0 5l-3 0l0 1l-4 0l0-3l-3 0l0-1l-4 0l0-1l-3 0l0-4l-4 0l0-2l-3 0l0 4l-4 0l0 3l-3 0l0-2l-4 0l0-3l-3 0l-4 0l-3 0l0 1l-4 0l0-1l-3 0l0-1l-4 0l0-1l-3 0l0 4l-4 0l0 2l-3 0l0-1l-4 0l0-3l-3 0l0-1l-4 0l0 1l-3 0l0-1l-4 0l0-1l-3 0l0 1l-4 0l0-1l-3 0l0 1l-4 0l-3 0l0-3l-4 0l0-1l-3 0l0-3l-4 0l0-3l-3 0l0 3l-4 0l0 4l-3 0l0 2l-4 0l0-1l-3 0l0-1l-4 0l0-2l-3 0l0-1l-4 0l-3 0l-4 0l0-2l-3 0l0-1l-4 0l-3 0l0 1l-4 0l0-1l-3 0l0-2l-4 0l0 1l-3 0l0 2l-4 0l0-2l-3 0l0-5l-4 0l0-4l-3 0l-4 0l0 1l-3 0l0 5l-4 0l0 1l-3 0l-4 0l0-1l-3 0l0-5l-4 0l0-5l-3 0l-4 0l0 3l-3 0l0 2l-4 0l0 1l-3 0l0 1l-4 0l0-2l-3 0l0-1l-4 0l0 3l-3 0l0 5l-4 0l0 2l-3 0l0-3l-4 0l0-4l-3 0l0-4l-4 0l0-1l-3 0l0 3l-4 0l0-1l-3 0l0-2l-4 0l0 3l-3 0l0 1l-4 0l0 1l-3 0l0 2l-4 0l0 3l-3 0l0 4l-4 0l0 2l-3 0l0 2l-4 0l0 2l-3 0l0 1l-4 0l0-1l-3 0l-4 0l0 3l-3 0l0 3l-4 0l0 2l-3 0l0 4l-4 0l0 3l-3 0l0 3l-4 0l0 4l-3 0l0 2l-4 0l0 2l-3 0l0 1l-4 0l0 1l-3 0l0 4l-4 0l0 6l-3 0l0 7l-4 0l0 4l-3 0l0-1l-4 0l0-3l-3 0l0 1l-4 0l0 4l-3 0l0 3l-4 0l0 3l-3 0l0 3l-4 0l0 3l-3 0l0 3l-4 0l0 2l-3 0l0 4l-4 0l0 3l-3 0l0 6l-4 0l0 5l-3 0l0 1l-4 0l0 4l-3 0l0 4l-4 0l0 2l-3 0l0 2l-4 0l0 2l-3 0l0-2l-4 0l-3 0l0 2l-4 0l0 2l-3 0l0 2l-4 0l0 2l-3 0l-4 0l0-2l-3 0l0 1l-4 0l-3 0l0 4l-4 0l0 3l-3 0l0-2l-4 0l0-4l-3 0l-4 0l0 1l-3 0l0-1l-4 0l0-2l-3 0l0 1l-4 0l0 4l-3 0l0 1l-4 0z" stroke="none" fill="#0000ff"/></g>
<g stroke="#ff00ff"><path d="M171 1472l3 0l3-1l3-1l3-1l2-2l3-1l3-1l3-1l3-1l2-1l3-2l3-1l2-1l3-1l3-2l2-1l3-2l3-1l2-2l3-1l2-2l3-1l3-2l2-2l3-1l2-2l3-2l2-1l2-2l3-2l2-2l2-2l3-1l2-2l2-2l3-2l2-2l2-2l3-2l2-2l2-2l2-2l2-2l2-2l3-3l2-2l2-2l2-2l2-2l2-2l2-2l2-3l2-2l2-2l2-2l3-2l2-2l2-3l2-2l2-2l2-2l2-3l2-2l2-2l2-2l2-2l2-3l2-2l2-2l2-2l2-2l2-3l2-2l2-2l2-2l2-2l3-2l2-2l2-3l2-2l2-2l2-2l2-2l3-2l2-2l2-2l2-2l3-2l2-2l2-2l3-1l2-2l3-2l2-2l2-1l3-2l2-2l3-1l3-2l2-1l3-2l3-1l2-1l3-1l3-1l3-1l3-1l3-1l2-1l3 0l3-1l3 0l3-1l3 0l3 0l3 0l3 0l3 0l3 0l3 1l3 0l3 0l3 1l3 0l3 1l3 0l3 1l3 1l3 0l3 1l3 1l3 1l2 0l3 1l3 1l3 1l3 1l3 1l3 1l2 0l3 1l3 1l3 1l3 1l3 1l3 1l2 1l3 1l3 1l3 1l3 1l3 1l3 0l2 1l3 1l3 1l3 1l3 1l3 0l3 1l3 1l3 1l3 0l3 1l2 0l3 1l3 0l3 1l3 0l3 1l3 0l3 0l3 1l3 0l3 0l3 0l3 0l3 1l3 0l3 0l3 0l3 0l3-1l3 0l3 0l3 0l3 0l3-1l3 0l3 0l3-1l3 0l3 0l3-1l3 0l3-1l3-1l3 0l3-1l3 0l3-1l2-1l3-1l3-1l3 0l3-1l3-1l3-1l3-1l2-1l3-1l3-1l3-1l3-1l2-2l3-1l3-1l3-1l2-1l3-2l3-1l2-1l3-2l3-1l2-2l3-1l2-2l3-1l3-2l2-1l3-2l2-2l3-1l2-2l3-2l2-1l2-2l3-2l2-2l3-2l2-2l2-2l2-2l3-2l2-2l2-2l2-2l3-2l2-2l2-2l2-2l2-2l2-2l2-2l2-3l2-2l2-2l2-2l2-3l2-2l2-2l2-3l2-2l2-2l1-3l2-2l2-2l2-3l2-2l1-3l2-2l2-3l1-2l2-3l2-2l1-3l2-2l2-3l1-2l2-3l1-2l2-3l2-2l1-3l2-3l1-2l2-3l1-2l1-3l2-3l1-2l2-3l1-3l2-2l1-3l1-3l2-2l1-3l1-3l2-2l1-3l1-3l2-2l1-3l1-3l1-3l2-2l1-3l1-3l1-3l2-2l1-3l1-3l1-2l2-3l1-3l1-3l1-3l1-2l1-3l2-3l1-3l1-2l1-3l1-3l1-3l2-2l1-3l1-3l1-3l1-2l1-3l1-3l2-3l1-3l1-2l1-3l1-3l1-3l1-2l1-3l2-3l1-3l1-3l1-2l1-3l1-3l1-3l1-3l1-2l1-3l2-3l1-3l1-3l1-2l1-3l1-3l1-3l1-3l1-2l1-3l1-3l1-3l1-3l1-2l2-3l1-3l1-3l1-3l1-2l1-3l1-3l1-3l1-3l1-3l1-2l1-3l1-3l1-3l1-3l1-2l1-3l1-3l1-3l1-3l1-3l1-2l1-3l1-3l1-3l1-3l1-3l1-2l1-3l1-3l1-3l1-3l1-3l1-2l1-3l1-3l1-3l1-3l1-3l1-2l1-3l1-3l0-3l1-3l1-3l1-3l1-2l1-3l1-3l1-3l1-3l1-3l1-3l1-2l1-3l0-3l1-3l1-3l1-3l1-3l1-2l1-3l1-3l1-3l1-3l0-3l1-3l1-2l1-3l1-3l1-3l1-3l1-3l0-3l1-3l1-2l1-3l1-3l1-3l1-3l1-3l0-3l1-3l1-2l1-3l1-3l1-3l1-3l0-3l1-3l1-3l1-2l1-3l1-3l1-3l0-3l1-3l1-3l1-3l1-2l1-3l1-3l0-3l1-3l1-3l1-3l1-3l1-2l1-3l0-3l1-3l1-3l1-3l1-3l1-3l1-2l0-3l1-3l1-3l1-3l1-3l1-3l1-3l1-2l0-3l1-3l1-3l1-3l1-3l1-3l1-2l1-3l0-3l1-3l1-3l1-3l1-3l1-3l1-2l1-3l1-3l0-3l1-3l1-3l1-3l1-2l1-3l1-3l1-3l1-3l1-3l1-3l0-2l1-3l1-3l1-3l1-3l1-3l1-3l1-2l1-3l0-3l1-3l1-3l1-3l1-3l1-3l1-2l1-3l0-3l1-3l1-3l1-3l1-3l1-3l0-2l1-3l1-3l1-3l1-3l1-3l1-3l1-3l1-2l1-3l1-3l1-3l1-3l1-2l2-3l2-2l2 0l2 2l2 3l1 2l1 3l1 3l1 3l1 3l1 2l1 3l1 3l1 3l1 3l1 3l1 2l1 3l1 3l1 3l1 3l1 3l0 3l1 2l1 3l1 3l1 3l1 3l0 3l1 3l1 3l1 3l0 3l1 2l1 3l0 3l1 3l0 3l1 3l1 3l0 3l1 3l0 3l1 3l1 3l0 3l1 3l0 3l1 3l0 3l1 2l0 3l1 3l1 3l0 3l1 3l0 3l1 3l0 3l1 3l1 3l0 3l1 3l0 3l1 3l1 3l0 3l1 2l0 3l1 3l1 3l0 3l1 3l1 3l0 3l1 3l0 3l1 3l1 3l0 3l1 3l1 3l0 2l1 3l1 3l0 3l1 3l0 3l1 3l1 3l0 3l1 3l0 3l1 3l1 3l0 3l1 3l1 3l0 2l1 3l0 3l1 3l0 3l1 3l1 3l0 3l1 3l0 3l1 3l0 3l1 3l0 3l1 3l1 3l0 3l1 3l0 3l1 2l0 3l1 3l0 3l1 3l0 3l1 3l0 3l1 3l0 3l1 3l0 3l1 3l0 3l1 3l0 3l1 3l0 3l1 3l1 3l0 3l1 3l0 2l1 3l0 3l1 3l0 3l1 3l1 3l0 3l1 3l0 3l1 3l1 3l0 3l1 3l0 3l1 3l1 3l0 2l1 3l1 3l0 3l1 3l1 3l1 3l0 3l1 3l1 3l1 3l0 2l1 3l1 3l1 3l1 3l0 3l1 3l1 3l1 2l1 3l1 3l1 3l1 3l1 3l1 3l1 2l1 3l1 3l1 3l1 3l1 2l1 3l1 3l1 3l1 3l2 2l1 3l1 3l1 3l1 2l2 3l1 3l1 2l2 3l1 3l1 2l2 3l1 3l2 2l1 3l2 3l1 2l2 3l1 2l2 3l1 2l2 3l2 2l1 3l2 2l2 3l2 2l1 3l2 2l2 2l2 3l2 2l2 2l2 3l2 2l2 2l2 2l2 3l2 2l2 2l2 2l2 2l2 2l2 2l3 2l2 2l2 2l3 2l2 2l2 2l3 2l2 2l2 1l3 2l2 2l3 1l2 2l3 2l3 1l2 2l3 1l2 1l3 2l3 1l2 1l3 2l3 1l3 1l2 1l3 1l3 1l3 1l3 1l3 1l2 1l3 1l3 1l3 1l3 0l3 1l3 1l3 0l3 1l3 0l3 1l3 0l3 1l3 0l3 0l3 1l3 0l3 0l3 0l3 0l3 0l3 0l3 0l3 0l3 0l3 0l3 0l3-1l3 0l2 0l3-1l3 0l3 0l3-1l3 0l3 0l3-1l3 0l3-1l3 0l3 0l3-1l3 0l3 0l3-1l3 0l3 0l3-1l3 0l3 0l3-1l3 0l3 0l3 0l3 0l3 0l3 0l3 0l3 0l3 0l3 0l3 0l3 0l3 0l3 0l3 0l3 1l3 0l3 0l3 1l3 0l3 0l3 1l3 0l3 1l3 0l3 1l3 0l3 1l3 0l3 1l2 0l3 1l3 1l3 0l3 1l3 1l3 1l3 1l3 0l3 1l2 1l3 1l3 1l3 1l3 1l3 1l3 1l2 1l3 1l3 1l3 1l3 1l2 1l3 1l3 2l3 1l2 1l3 1l3 2l3 1l2 1l3 1l3 2l2 1l3 2l3 1l2 1l3 2l2 1l3 2l3 1l2 2l3 1l2 2l3 1l3 2l2 2l3 1l2 2l3 1l2 2l3 2l2 1l3 2l2 2l3 2l2 1l2 2l3 2l2 2l3 1l2 2l3 2l2 2l2 1l3 2l2 2l3 2l2 2l2 2l3 1l2 2l2 2l3 2l2 2l3 2l2 1l2 2l3 2l2 2l2 2l3 2l2 1l2 2l3 2l2 2l3 2l2 2l2 1l3 2l2 2l3 2l2 2l2 2l3 1l2 2l3 2l2 2l2 1l3 2l2 2l3 2l2 1l3 2l2 2l2 2l3 1l2 2l3 2l2 1l3 2l2 2l3 1l2 2l3 1l3 2l2 2l3 1l2 2l3 1l2 2l3 1l2 2l3 2l3 1l2 2l3 1l2 1l3 2l3 1l2 2l3 1l3 2l2 1l3 1l3 2l2 1l3 2l3 1l2 1l3 1l3 2l3 1l2 1l3 2l3 1l2 1l3 1l3 1l3 2l2 1l3 1l3 1l3 1l3 1l2 1l3 1l3 1l3 1l3 1l2 1l3 1l3 1l3 1l3 1l3 1l3 1l2 1l3 1l3 1l3 0l3 1l3 1l3 1l3 1l3 0l2 1l3 1l3 0l3 1l3 1l3 0l3 1l3 1l3 0l3 1l3 0l3 1l3 0l3 1l3 0l3 1l3 0l3 1l3 0l2 1l3 0l3 1l3 0l3 0l3 1l3 0l3 1l3 0l3 0l3 1l3 0l3 1l3 0l3 0l3 1l3 0l3 0l3 1l3 0l3 0l3 1l3 0l3 1l3 0l3 0l3 1l3 0l3 0l3 1l3 0l3 0l3 1l3 0l3 1l3 0l3 0l3 1l3 0l3 1l2 0l3 1l3 0l3 0l3 1l3 0l3 1l3 0l3 1l3 1l3 0l3 1l3 0l3 1l3 0l3 1l3 1l3 0" stroke-width="22" stroke-linejoin="round"/><path d="M170 1455l4 0l0 1l3 0l0 1l4 0l0-2l3 0l0-1l4 0l3 0l0-1l4 0l0-3l3 0l0-2l4 0l0-1l3 0l0-1l4 0l0-5l3 0l0-2l4 0l0-1l3 0l0-7l4 0l0-5l3 0l0-3l4 0l0-3l3 0l0-3l4 0l0-2l3 0l0-1l4 0l3 0l0-2l4 0l0-2l3 0l0 1l4 0l0-1l3 0l0-5l4 0l0-4l3 0l0-4l4 0l0-5l3 0l0-2l4 0l0-1l3 0l0-4l4 0l0-5l3 0l0-7l4 0l0-7l3 0l0-6l4 0l0-5l3 0l0-3l4 0l0-2l3 0l0-6l4 0l0-5l3 0l0-4l4 0l0-4l3 0l0-1l4 0l3 0l0-4l4 0l0-5l3 0l0-3l4 0l0-6l3 0l0-6l4 0l0-3l3 0l4 0l0-2l3 0l0-3l4 0l0-1l3 0l0-1l4 0l0-2l3 0l0-4l4 0l0-6l3 0l0-6l4 0l0-6l3 0l0-5l4 0l0-1l3 0l0-1l4 0l3 0l0 1l4 0l0 1l3 0l0 1l4 0l0 1l3 0l4 0l0-1l3 0l4 0l3 0l0-4l4 0l0-1l3 0l4 0l3 0l0-1l4 0l0 1l3 0l0 1l4 0l0 1l3 0l0 1l4 0l3 0l4 0l0 1l3 0l4 0l0-2l3 0l0 1l4 0l0-3l3 0l0-5l4 0l0-4l3 0l0-3l4 0l0 3l3 0l0 7l4 0l0 3l3 0l0 4l4 0l0 6l3 0l0 3l4 0l0-4l3 0l0 1l4 0l0 4l3 0l0 3l4 0l0 1l3 0l0 1l4 0l0 2l3 0l0 2l4 0l0 1l3 0l0 2l4 0l3 0l0-6l4 0l0-4l3 0l0-1l4 0l0 3l3 0l0 5l4 0l0 4l3 0l0 4l4 0l0 1l3 0l0 2l4 0l0-4l3 0l0-3l4 0l3 0l0 3l4 0l0 5l3 0l0 1l4 0l0-1l3 0l0-6l4 0l0-5l3 0l0 3l4 0l0 6l3 0l0 3l4 0l0 3l3 0l0 4l4 0l3 0l0-1l4 0l0-1l3 0l0 1l4 0l0 1l3 0l4 0l0-1l3 0l0-1l4 0l0-1l3 0l0-2l4 0l3 0l4 0l0-2l3 0l0-2l4 0l0-4l3 0l0-2l4 0l0-3l3 0l0-1l4 0l0-1l3 0l0-2l4 0l0-1l3 0l0 1l4 0l3 0l0-1l4 0l0-2l3 0l0 1l4 0l0 4l3 0l0 2l4 0l0-4l3 0l0-2l4 0l0-2l3 0l0-2l4 0l0-2l3 0l4 0l3 0l0-3l4 0l0-4l3 0l0-3l4 0l0-2l3 0l0-2l4 0l0-3l3 0l0-3l4 0l0-4l3 0l0-7l4 0l0-2l3 0l0 1l4 0l3 0l0-2l4 0l0-2l3 0l0-2l4 0l0-4l3 0l0-8l4 0l0-4l3 0l0-1l4 0l0-2l3 0l0-4l4 0l0-7l3 0l0-5l4 0l0-3l3 0l0 2l4 0l0-5l3 0l0-11l4 0l0-10l3 0l0-3l4 0l0 1l3 0l0-4l4 0l0-4l3 0l0-3l4 0l0-4l3 0l0-8l4 0l0-9l3 0l0-7l4 0l0-8l3 0l0-8l4 0l0-5l3 0l0-3l4 0l0-5l3 0l0-9l4 0l0-10l3 0l0-7l4 0l0-5l3 0l0-6l4 0l0-6l3 0l0-6l4 0l0-11l3 0l0-12l4 0l0-9l3 0l0-7l4 0l0-9l3 0l0-11l4 0l0-10l3 0l0-7l4 0l0-4l3 0l0-4l4 0l0-9l3 0l0-11l4 0l0-10l3 0l0-12l4 0l0-11l3 0l0-9l4 0l0-9l3 0l0-11l4 0l0-10l3 0l0-9l4 0l0-8l3 0l0-7l4 0l0-7l3 0l0-10l4 0l0-12l3 0l0-13l4 0l0-13l3 0l0-10l4 0l0-10l3 0l0-12l4 0l0-12l3 0l0-10l4 0l0-12l3 0l0-14l4 0l0-12l3 0l0-9l4 0l0-6l3 0l0-10l4 0l0-13l3 0l0-16l4 0l0-12l3 0l0-12l4 0l0-13l3 0l0-11l4 0l0-8l3 0l0-9l4 0l0-9l3 0l0-13l4 0l0-14l3 0l0-9l4 0l0-10l3 0l0-14l4 0l0-14l3 0l0-10l4 0l0-8l3 0l0-10l4 0l0-9l3 0l0-9l4 0l0-12l3 0l0-12l4 0l0-13l3 0l0-13l4 0l0-15l3 0l0-11l4 0l0-8l3 0l0-6l4 0l0-4l3 0l0-2l4 0l0 7l3 0l0 13l4 0l0 17l3 0l0 11l4 0l0 11l3 0l0 13l4 0l0 14l3 0l0 10l4 0l0 14l3 0l0 20l4 0l0 19l3 0l0 18l4 0l0 17l3 0l0 15l4 0l0 19l3 0l0 19l4 0l0 16l3 0l0 16l4 0l0 16l3 0l0 16l4 0l0 18l3 0l0 16l4 0l0 19l3 0l0 20l4 0l0 18l3 0l0 18l4 0l0 21l3 0l0 19l4 0l0 13l3 0l0 12l4 0l0 16l3 0l0 14l4 0l0 11l3 0l0 11l4 0l0 11l3 0l0 8l4 0l0 5l3 0l0 8l4 0l0 10l3 0l0 7l4 0l0 7l3 0l0 6l4 0l0 3l3 0l0 3l4 0l0 2l3 0l0 5l4 0l0 7l3 0l0 6l4 0l0 2l3 0l0 4l4 0l0 7l3 0l0 6l4 0l0 4l3 0l0 6l4 0l0 7l3 0l0 6l4 0l0 6l3 0l0 3l4 0l0 3l3 0l0 3l4 0l0 1l3 0l4 0l0 3l3 0l0 2l4 0l0 2l3 0l0 2l4 0l0 3l3 0l0 2l4 0l3 0l0-1l4 0l0 2l3 0l0 3l4 0l0 6l3 0l0 4l4 0l3 0l0-2l4 0l3 0l0-1l4 0l0 1l3 0l0 3l4 0l0 2l3 0l0 4l4 0l0 6l3 0l0 4l4 0l3 0l0-1l4 0l0 1l3 0l0 2l4 0l0 2l3 0l0 1l4 0l0-1l3 0l0-3l4 0l0-3l3 0l4 0l0 1l3 0l4 0l0-2l3 0l0-1l4 0l0 5l3 0l4 0l0-3l3 0l0-1l4 0l0 1l3 0l0-2l4 0l0-2l3 0l0 3l4 0l0 5l3 0l4 0l0 1l3 0l4 0l0-4l3 0l0-6l4 0l0-2l3 0l0 4l4 0l0 2l3 0l4 0l0-3l3 0l0-3l4 0l0-2l3 0l0-1l4 0l0 2l3 0l0-1l4 0l0-2l3 0l0 1l4 0l0-3l3 0l4 0l0 6l3 0l0 4l4 0l0-1l3 0l0-2l4 0l3 0l0-1l4 0l0-2l3 0l0-1l4 0l3 0l0 1l4 0l3 0l0-1l4 0l0-3l3 0l0 3l4 0l0 5l3 0l0 1l4 0l0 1l3 0l0 4l4 0l0 1l3 0l4 0l0 2l3 0l4 0l0 1l3 0l4 0l0-2l3 0l0-3l4 0l0 1l3 0l0 6l4 0l0 3l3 0l4 0l3 0l0-1l4 0l0-3l3 0l0-1l4 0l3 0l0 2l4 0l0 4l3 0l0 3l4 0l0-1l3 0l4 0l0 4l3 0l0 7l4 0l0 2l3 0l0 1l4 0l0 2l3 0l0 3l4 0l0 2l3 0l0-1l4 0l0-1l3 0l0-4l4 0l0-1l3 0l0 4l4 0l0 2l3 0l0 4l4 0l0 3l3 0l0 1l4 0l0 5l3 0l0 5l4 0l0 4l3 0l0 4l4 0l0 2l3 0l0-1l4 0l0-2l3 0l0 1l4 0l0 2l3 0l0 2l4 0l0 4l3 0l0 4l4 0l0 3l3 0l0 2l4 0l0 3l3 0l0 3l4 0l0 4l3 0l0 5l4 0l0 3l3 0l0 1l4 0l0 2l3 0l0 5l4 0l0 3l3 0l0 3l4 0l0 2l3 0l4 0l0 2l3 0l0 3l4 0l0 4l3 0l0 5l4 0l0 3l3 0l0 4l4 0l0 4l3 0l0 2l4 0l0 2l3 0l0 2l4 0l0 3l3 0l0 2l4 0l0 3l3 0l0 2l4 0l0 2l3 0l0 3l4 0l3 0l0-2l4 0l0-1l3 0l0 3l4 0l0 3l3 0l0 3l4 0l0 4l3 0l0 4l4 0l0 3l3 0l0 1l4 0l0 4l3 0l0 3l4 0l0 1l3 0l0 2l4 0l0 4l3 0l0 4l4 0l0 3l3 0l0 2l4 0l0 1l3 0l0 1l4 0l0 2l3 0l0 2l4 0l0 2l3 0l0 3l4 0l0 2l3 0l4 0l3 0l0 3l4 0l0 3l3 0l0 3l4 0l0 1l3 0l0 1l4 0l3 0l0 1l4 0l0 3l3 0l0 3l4 0l0 3l3 0l0 1l4 0l0 1l3 0l0 1l4 0l0 2l3 0l0 1l4 0l0 2l3 0l0 2l4 0l0 2l3 0l0-2l4 0l0-2l3 0l0 2l4 0l0 2l3 0l4 0l0 1l3 0l0 3l4 0l0 3l3 0l4 0l3 0l4 0l0 2l3 0l0 1l4 0l3 0l0-1l4 0l0-1l3 0l4 0l3 0l0 2l4 0l0 2l3 0l4 0l0 1l3 0l0 1l4 0l0 2l3 0l0 2l4 0l0 2l3 0l0 1l4 0l3 0l0 1l4 0l0 1l3 0l0-3l4 0l0-2l3 0l4 0l0 2l3 0l0 1l4 0l3 0l4 0l0 1l3 0l0 1l4 0l3 0l0 1l4 0l0 3l3 0l0 2l4 0l3 0l4 0l3 0l0 1l4 0l3 0l0-1l4 0l3 0l0 2l4 0l3 0l4 0l0 3l3 0l4 0l3 0l4 0l0 1l3 0l4 0l3 0l4 0l0 1l3 0l4 0l0-1l3 0l0 1l4 0l0 2l3 0l0 1l4 0l3 0l4 0l0 1l3 0l4 0l0 1l3 0l0-1l4 0l3 0l0 2l4 0l0 2l3 0l0 1l4 0l0 24l-4 0l0-1l-3 0l-4 0l0 1l-3 0l0-1l-4 0l0-2l-3 0l0-1l-4 0l-3 0l-4 0l0-2l-3 0l0-1l-4 0l0-1l-3 0l-4 0l-3 0l-4 0l-3 0l0-1l-4 0l0-1l-3 0l0-1l-4 0l-3 0l-4 0l0-1l-3 0l-4 0l0 1l-3 0l0-1l-4 0l0-1l-3 0l0 1l-4 0l0 2l-3 0l0 2l-4 0l0-1l-3 0l0-2l-4 0l0-3l-3 0l0-1l-4 0l0 1l-3 0l0-1l-4 0l0-3l-3 0l0-2l-4 0l-3 0l-4 0l0-1l-3 0l-4 0l0 1l-3 0l0 1l-4 0l0-1l-3 0l0-1l-4 0l0-2l-3 0l0-1l-4 0l-3 0l0-1l-4 0l-3 0l-4 0l0-1l-3 0l0-2l-4 0l0-1l-3 0l0 1l-4 0l0 2l-3 0l-4 0l0 1l-3 0l0 1l-4 0l0-1l-3 0l0-2l-4 0l0-3l-3 0l0-2l-4 0l0-2l-3 0l-4 0l-3 0l0-1l-4 0l-3 0l-4 0l-3 0l0-3l-4 0l0-1l-3 0l0 2l-4 0l-3 0l0-3l-4 0l0-3l-3 0l0-1l-4 0l0-1l-3 0l0-2l-4 0l0-3l-3 0l0-1l-4 0l-3 0l0 1l-4 0l-3 0l0-2l-4 0l0-3l-3 0l0-1l-4 0l-3 0l0-1l-4 0l-3 0l0-1l-4 0l0-4l-3 0l0-5l-4 0l0-1l-3 0l-4 0l0-4l-3 0l0-2l-4 0l0-1l-3 0l0-1l-4 0l0-2l-3 0l0-2l-4 0l0-2l-3 0l0-1l-4 0l0 1l-3 0l0-2l-4 0l0-2l-3 0l0-2l-4 0l0-2l-3 0l0-1l-4 0l0-3l-3 0l0-4l-4 0l0-3l-3 0l0-4l-4 0l0-4l-3 0l0-1l-4 0l0 1l-3 0l0-3l-4 0l0-3l-3 0l0-2l-4 0l0-1l-3 0l0-1l-4 0l0-2l-3 0l0-5l-4 0l0-3l-3 0l0-3l-4 0l0-3l-3 0l0-1l-4 0l0-1l-3 0l0-3l-4 0l0-1l-3 0l-4 0l0-3l-3 0l0-6l-4 0l0-6l-3 0l0-3l-4 0l0-1l-3 0l0-3l-4 0l0-4l-3 0l0-2l-4 0l0-1l-3 0l-4 0l0-1l-3 0l0-5l-4 0l0-5l-3 0l0-2l-4 0l-3 0l-4 0l0-3l-3 0l0-6l-4 0l0-4l-3 0l-4 0l-3 0l0-3l-4 0l0-4l-3 0l-4 0l0-4l-3 0l0-8l-4 0l0-7l-3 0l0-1l-4 0l0-1l-3 0l0-2l-4 0l0-2l-3 0l0-1l-4 0l0-1l-3 0l0-3l-4 0l0-1l-3 0l-4 0l0-2l-3 0l0-5l-4 0l0-4l-3 0l0-2l-4 0l0-3l-3 0l0-1l-4 0l0 3l-3 0l0-1l-4 0l0-5l-3 0l-4 0l0 1l-3 0l0-1l-4 0l0-3l-3 0l0-4l-4 0l0-3l-3 0l-4 0l0-2l-3 0l0-4l-4 0l0-1l-3 0l0 4l-4 0l0 1l-3 0l0-6l-4 0l0-3l-3 0l0 3l-4 0l-3 0l0-2l-4 0l0 2l-3 0l-4 0l0-1l-3 0l0-1l-4 0l0-1l-3 0l0-4l-4 0l0-3l-3 0l0-1l-4 0l-3 0l0 1l-4 0l0 1l-3 0l0-1l-4 0l0-3l-3 0l0-2l-4 0l0-1l-3 0l0 1l-4 0l0 1l-3 0l0-4l-4 0l0-3l-3 0l-4 0l-3 0l-4 0l0 1l-3 0l0-1l-4 0l-3 0l0 3l-4 0l0 2l-3 0l0-1l-4 0l0-1l-3 0l0 4l-4 0l0 4l-3 0l0-5l-4 0l0-4l-3 0l-4 0l0 2l-3 0l0 1l-4 0l0-1l-3 0l0-1l-4 0l0 1l-3 0l0 1l-4 0l-3 0l-4 0l0 3l-3 0l0 5l-4 0l0 1l-3 0l0-1l-4 0l0-2l-3 0l0-2l-4 0l0-1l-3 0l0 2l-4 0l0 2l-3 0l0-1l-4 0l0-2l-3 0l0 2l-4 0l0 6l-3 0l0 3l-4 0l0 2l-3 0l0 3l-4 0l0-1l-3 0l0 1l-4 0l0 4l-3 0l0 1l-4 0l0-2l-3 0l0-4l-4 0l0-11l-3 0l0-5l-4 0l-3 0l-4 0l0 4l-3 0l0 4l-4 0l0-2l-3 0l0-2l-4 0l0-1l-3 0l0-2l-4 0l0-3l-3 0l0-5l-4 0l0-4l-3 0l-4 0l0-1l-3 0l0-2l-4 0l0 1l-3 0l-4 0l0-1l-3 0l0-1l-4 0l0-3l-3 0l0-4l-4 0l0-6l-3 0l0-1l-4 0l-3 0l0-1l-4 0l0-1l-3 0l-4 0l0 1l-3 0l0-2l-4 0l0-7l-3 0l0-7l-4 0l0-3l-3 0l-4 0l0-2l-3 0l0-5l-4 0l0-6l-3 0l0-6l-4 0l0-5l-3 0l0-4l-4 0l0-3l-3 0l0-2l-4 0l0-4l-3 0l0-6l-4 0l0-4l-3 0l0-3l-4 0l0-5l-3 0l0-8l-4 0l0-8l-3 0l0-7l-4 0l0-8l-3 0l0-10l-4 0l0-11l-3 0l0-9l-4 0l0-8l-3 0l0-10l-4 0l0-10l-3 0l0-11l-4 0l0-13l-3 0l0-15l-4 0l0-15l-3 0l0-13l-4 0l0-16l-3 0l0-18l-4 0l0-19l-3 0l0-20l-4 0l0-18l-3 0l0-20l-4 0l0-14l-3 0l0-16l-4 0l0-19l-3 0l0-21l-4 0l0-19l-3 0l0-18l-4 0l0-17l-3 0l0-14l-4 0l0-13l-3 0l0-17l-4 0l0-14l-3 0l0-17l-4 0l0-23l-3 0l0-18l-4 0l0-12l-3 0l0-13l-4 0l0-13l-3 0l0-11l-4 0l0-11l-3 0l0-9l-4 0l0-9l-3 0l0-8l-4 0l0-9l-3 0l0 2l-4 0l0 5l-3 0l0 9l-4 0l0 12l-3 0l0 16l-4 0l0 19l-3 0l0 18l-4 0l0 11l-3 0l0 6l-4 0l0 8l-3 0l0 6l-4 0l0 8l-3 0l0 13l-4 0l0 14l-3 0l0 13l-4 0l0 13l-3 0l0 13l-4 0l0 14l-3 0l0 12l-4 0l0 8l-3 0l0 5l-4 0l0 7l-3 0l0 11l-4 0l0 11l-3 0l0 14l-4 0l0 13l-3 0l0 12l-4 0l0 13l-3 0l0 13l-4 0l0 11l-3 0l0 9l-4 0l0 9l-3 0l0 11l-4 0l0 13l-3 0l0 11l-4 0l0 9l-3 0l0 12l-4 0l0 15l-3 0l0 13l-4 0l0 9l-3 0l0 8l-4 0l0 9l-3 0l0 11l-4 0l0 10l-3 0l0 7l-4 0l0 9l-3 0l0 11l-4 0l0 12l-3 0l0 10l-4 0l0 10l-3 0l0 8l-4 0l0 8l-3 0l0 9l-4 0l0 8l-3 0l0 8l-4 0l0 13l-3 0l0 13l-4 0l0 7l-3 0l0 6l-4 0l0 6l-3 0l0 9l-4 0l0 13l-3 0l0 10l-4 0l0 7l-3 0l0 8l-4 0l0 9l-3 0l0 10l-4 0l0 8l-3 0l0 5l-4 0l0 6l-3 0l0 7l-4 0l0 9l-3 0l0 7l-4 0l0 6l-3 0l0 4l-4 0l0 5l-3 0l0 7l-4 0l0 7l-3 0l0 8l-4 0l0 8l-3 0l0 10l-4 0l0 6l-3 0l0 3l-4 0l0 2l-3 0l0 4l-4 0l0 5l-3 0l0 3l-4 0l0 5l-3 0l0 10l-4 0l0 7l-3 0l0 2l-4 0l0 2l-3 0l0 3l-4 0l0 5l-3 0l0 5l-4 0l0 5l-3 0l0 4l-4 0l0 1l-3 0l0 1l-4 0l0 2l-3 0l0 5l-4 0l0 7l-3 0l0 4l-4 0l0 1l-3 0l0 4l-4 0l0 4l-3 0l0-1l-4 0l-3 0l-4 0l0-1l-3 0l0 1l-4 0l0 4l-3 0l0 2l-4 0l0 4l-3 0l0 8l-4 0l0 2l-3 0l0-2l-4 0l-3 0l0 3l-4 0l0 3l-3 0l0 5l-4 0l0 3l-3 0l-4 0l0 1l-3 0l-4 0l0-1l-3 0l0 1l-4 0l0 4l-3 0l-4 0l0-5l-3 0l0-3l-4 0l0 2l-3 0l0 5l-4 0l0 1l-3 0l0-1l-4 0l0-1l-3 0l0-1l-4 0l-3 0l0 2l-4 0l0 2l-3 0l0-1l-4 0l0 1l-3 0l0 4l-4 0l-3 0l-4 0l-3 0l0-1l-4 0l0 1l-3 0l0 2l-4 0l0 3l-3 0l0-3l-4 0l0-5l-3 0l-4 0l0 2l-3 0l-4 0l0-1l-3 0l-4 0l0 1l-3 0l0-4l-4 0l0-2l-3 0l0 1l-4 0l0 2l-3 0l0 1l-4 0l0-1l-3 0l0-2l-4 0l-3 0l0 2l-4 0l0 5l-3 0l0 2l-4 0l0-2l-3 0l0-4l-4 0l0-4l-3 0l0-3l-4 0l0-1l-3 0l0-1l-4 0l0-3l-3 0l-4 0l0-1l-3 0l0-4l-4 0l0-3l-3 0l-4 0l0-2l-3 0l0-4l-4 0l0-1l-3 0l0-1l-4 0l0-3l-3 0l0-1l-4 0l0 2l-3 0l0 2l-4 0l-3 0l0-3l-4 0l0-2l-3 0l0 1l-4 0l0 4l-3 0l0 2l-4 0l0-4l-3 0l0-2l-4 0l0 1l-3 0l-4 0l0-2l-3 0l0-2l-4 0l0 1l-3 0l0 2l-4 0l0-2l-3 0l0-3l-4 0l0-1l-3 0l0 1l-4 0l-3 0l0 1l-4 0l0 1l-3 0l0 1l-4 0l0 5l-3 0l0 6l-4 0l0-3l-3 0l0-1l-4 0l-3 0l0 2l-4 0l0 7l-3 0l0 2l-4 0l0-2l-3 0l-4 0l0 2l-3 0l0 2l-4 0l0 1l-3 0l0 3l-4 0l0 5l-3 0l0 3l-4 0l0 3l-3 0l0 4l-4 0l0 5l-3 0l0 2l-4 0l0 2l-3 0l0 3l-4 0l0 4l-3 0l0 7l-4 0l0 9l-3 0l0 3l-4 0l0 1l-3 0l0 3l-4 0l0 8l-3 0l0 6l-4 0l0 7l-3 0l0 4l-4 0l0-2l-3 0l0-2l-4 0l0 3l-3 0l0 4l-4 0l0 8l-3 0l0 9l-4 0l0 6l-3 0l0-1l-4 0l-3 0l0 3l-4 0l0 5l-3 0l0 4l-4 0l0 5l-3 0l0 4l-4 0l0 1l-3 0l0 4l-4 0l0 6l-3 0l0 2l-4 0l0 2l-3 0l0 2l-4 0l0-3l-3 0l0-4l-4 0l0 2l-3 0l0 2l-4 0l0 3l-3 0l0 4l-4 0l0 4l-3 0l0 4l-4 0l0 1l-3 0l0 1l-4 0l0 2l-3 0l0-1l-4 0l0-1l-3 0l0 3l-4 0l0 5l-3 0l0 2l-4 0l0-1l-3 0l0 3l-4 0l0 4l-3 0l-4 0z" stroke="none" fill="#ff00ff"/></g>
<g stroke="#008000"><path d="M172 1427l3-1l2-2l3-1l3-1l2-2l3-1l3-2l2-1l3-2l2-1l3-2l3-1l2-2l3-2l2-1l3-2l2-2l3-1l2-2l2-2l3-1l2-2l3-2l2-2l2-2l3-2l2-2l2-2l3-1l2-2l2-2l2-2l3-2l2-2l2-3l2-2l2-2l2-2l3-2l2-2l2-2l2-2l2-3l2-2l2-2l2-2l2-3l2-2l2-2l2-2l1-3l2-2l2-3l2-2l2-2l2-3l1-2l2-2l2-3l2-2l1-3l2-2l2-3l1-2l2-3l2-2l1-3l2-2l2-3l1-2l2-3l2-2l1-3l2-2l1-3l2-2l2-3l1-2l2-3l2-2l1-3l2-2l2-3l2-2l1-3l2-2l2-3l2-2l1-2l2-3l2-2l2-3l2-2l2-2l2-2l2-3l2-2l2-2l2-2l2-2l2-2l2-3l3-2l2-1l2-2l2-2l3-2l2-2l3-2l2-1l3-2l2-1l3-2l2-1l3-2l3-1l3-1l2-1l3-2l3-1l3 0l3-1l3-1l3-1l3 0l3 0l3-1l3 0l3 0l3 1l3 0l2 0l3 1l3 0l3 1l3 1l3 1l3 1l3 1l3 1l2 1l3 1l3 1l3 1l2 1l3 2l3 1l3 1l2 1l3 2l3 1l2 1l3 2l3 1l3 1l2 2l3 1l3 1l2 1l3 1l3 2l3 1l2 1l3 1l3 1l3 1l3 1l3 1l2 1l3 1l3 1l3 1l3 1l3 1l3 1l2 0l3 1l3 1l3 0l3 1l3 1l3 0l3 1l3 0l3 1l3 0l3 0l3 1l3 0l3 0l3 0l3 0l3 0l3 0l3 0l3 0l3 0l3 0l3 0l3 0l3-1l3 0l3-1l3 0l3 0l3-1l3-1l2 0l3-1l3 0l3-1l3-1l3-1l3-1l3 0l3-1l3-1l2-1l3-1l3-1l3-1l3-1l2-2l3-1l3-1l3-1l2-2l3-1l3-1l2-2l3-1l3-1l2-2l3-1l2-2l3-1l3-2l2-2l3-1l2-2l3-1l2-2l3-2l2-2l2-1l3-2l2-2l3-2l2-2l2-2l2-2l3-2l2-2l2-2l2-2l3-2l2-2l2-2l2-2l2-2l2-2l2-3l2-2l2-2l2-2l2-3l2-2l2-2l2-3l2-2l2-2l1-3l2-2l2-2l2-3l2-2l1-3l2-2l2-3l1-2l2-3l2-2l1-3l2-2l2-3l1-2l2-3l1-2l2-3l1-3l2-2l1-3l2-2l1-3l1-3l2-2l1-3l2-3l1-2l1-3l2-3l1-3l1-2l1-3l2-3l1-2l1-3l1-3l2-3l1-2l1-3l1-3l2-3l1-2l1-3l1-3l1-3l1-2l1-3l2-3l1-3l1-3l1-2l1-3l1-3l1-3l1-3l1-2l1-3l1-3l1-3l1-3l1-2l1-3l1-3l1-3l2-3l1-3l1-2l1-3l1-3l1-3l1-3l1-2l0-3l1-3l1-3l1-3l1-3l1-2l1-3l1-3l1-3l1-3l1-3l1-3l1-2l1-3l1-3l1-3l1-3l1-3l1-2l1-3l1-3l1-3l1-3l1-3l1-2l1-3l1-3l1-3l1-3l1-3l0-3l1-2l1-3l1-3l1-3l1-3l1-3l1-2l1-3l1-3l1-3l1-3l1-3l1-3l0-2l1-3l1-3l1-3l1-3l1-3l1-3l1-2l1-3l1-3l0-3l1-3l1-3l1-3l1-3l1-2l1-3l1-3l1-3l0-3l1-3l1-3l1-2l1-3l1-3l1-3l0-3l1-3l1-3l1-3l1-2l1-3l1-3l0-3l1-3l1-3l1-3l1-3l1-3l0-2l1-3l1-3l1-3l1-3l1-3l0-3l1-3l1-2l1-3l1-3l0-3l1-3l1-3l1-3l1-3l0-3l1-3l1-2l1-3l1-3l0-3l1-3l1-3l1-3l0-3l1-3l1-2l1-3l1-3l0-3l1-3l1-3l1-3l0-3l1-3l1-3l1-3l0-2l1-3l1-3l1-3l0-3l1-3l1-3l0-3l1-3l1-3l1-3l0-2l1-3l1-3l1-3l0-3l1-3l1-3l0-3l1-3l1-3l1-3l0-2l1-3l1-3l0-3l1-3l1-3l1-3l0-3l1-3l1-3l0-3l1-3l1-2l0-3l1-3l1-3l0-3l1-3l1-3l0-3l1-3l1-3l1-3l0-3l1-3l1-2l0-3l1-3l1-3l0-3l1-3l1-3l0-3l1-3l1-3l0-3l1-3l1-3l0-2l1-3l1-3l0-3l1-3l0-3l1-3l1-3l0-3l1-3l1-3l0-3l1-3l1-3l0-2l1-3l1-3l0-3l1-3l1-3l0-3l1-3l0-3l1-3l1-3l0-3l1-3l1-3l0-3l1-2l1-3l0-3l1-3l0-3l1-3l1-3l0-3l1-3l1-3l0-3l1-3l1-3l0-3l1-2l0-3l1-3l1-3l0-3l1-3l1-3l0-3l1-3l1-3l0-3l1-3l0-3l1-3l1-3l0-2l1-3l1-3l0-3l1-3l1-3l0-3l1-3l1-3l0-3l1-3l1-3l0-3l1-2l1-3l1-3l0-3l1-3l1-3l0-3l1-3l1-3l1-3l0-3l1-3l1-2l0-3l1-3l1-3l1-3l0-3l1-3l1-3l1-3l1-3l0-2l1-3l1-3l1-3l0-3l1-3l1-3l1-3l0-3l1-3l1-2l1-3l0-3l1-3l1-3l1-3l1-3l0-3l1-3l1-2l1-3l1-3l2-3l2-1l2 2l2 2l1 3l1 3l1 3l1 2l1 3l1 3l0 3l1 3l1 3l1 3l1 3l1 2l1 3l1 3l0 3l1 3l1 3l1 3l1 2l1 3l1 3l1 3l1 3l1 3l0 3l1 2l1 3l1 3l1 3l0 3l1 3l1 3l0 3l1 3l1 3l0 3l1 3l1 2l0 3l1 3l0 3l1 3l0 3l1 3l0 3l1 3l0 3l1 3l0 3l1 3l0 3l1 3l0 3l1 3l0 3l0 3l1 3l0 3l1 3l0 3l0 3l1 3l0 3l1 3l0 3l1 2l0 3l0 3l1 3l0 3l1 3l0 3l0 3l1 3l0 3l1 3l0 3l1 3l0 3l1 3l0 3l0 3l1 3l0 3l1 3l0 3l1 3l0 3l1 3l0 3l0 3l1 3l0 3l1 3l0 3l1 3l0 2l1 3l0 3l1 3l0 3l0 3l1 3l0 3l1 3l0 3l1 3l0 3l1 3l0 3l1 3l0 3l1 3l0 3l1 3l0 3l1 3l0 3l1 3l0 3l1 3l0 3l0 2l1 3l0 3l1 3l0 3l1 3l0 3l1 3l0 3l1 3l0 3l1 3l0 3l1 3l0 3l1 3l0 3l1 3l0 3l1 3l0 3l1 3l0 3l1 3l0 2l1 3l0 3l1 3l0 3l1 3l1 3l0 3l1 3l0 3l1 3l0 3l1 3l0 3l1 3l0 3l1 3l0 3l1 3l0 3l1 3l0 3l1 3l0 2l1 3l0 3l1 3l0 3l1 3l0 3l1 3l0 3l1 3l0 3l1 3l1 3l0 3l1 3l0 3l1 3l0 3l1 3l0 3l1 3l0 3l1 2l0 3l1 3l0 3l1 3l0 3l1 3l1 3l0 3l1 3l0 3l1 3l0 3l1 3l0 3l1 3l1 3l0 3l1 3l0 2l1 3l1 3l0 3l1 3l1 3l0 3l1 3l1 3l0 3l1 3l1 3l0 3l1 2l1 3l1 3l0 3l1 3l1 3l1 3l1 3l0 3l1 3l1 2l1 3l1 3l1 3l1 3l1 3l1 2l1 3l1 3l1 3l1 3l1 3l1 2l1 3l1 3l1 3l1 2l2 3l1 3l1 3l1 2l2 3l1 3l1 3l2 2l1 3l2 2l1 3l1 3l2 2l1 3l2 3l2 2l1 3l2 2l1 3l2 2l2 3l2 2l1 2l2 3l2 2l2 3l2 2l2 2l1 3l2 2l2 2l2 2l3 2l2 3l2 2l2 2l2 2l2 2l2 2l3 2l2 2l2 2l2 2l3 2l2 2l3 1l2 2l2 2l3 2l2 1l3 2l2 2l3 1l3 2l2 1l3 2l2 1l3 1l3 2l3 1l2 1l3 1l3 1l3 2l2 1l3 1l3 1l3 0l3 1l3 1l3 1l2 1l3 0l3 1l3 1l3 0l3 1l3 0l3 1l3 0l3 1l3 0l3 0l3 1l3 0l3 0l3 0l3 1l3 0l3 0l3 0l3 0l3 0l3 0l3 0l3 0l3 0l3-1l3 0l3 0l3 0l3 0l3 0l3-1l3 0l3 0l3-1l3 0l3 0l3 0l3-1l3 0l3 0l3-1l3 0l3 0l3-1l3 0l3 0l3 0l3-1l3 0l3 0l3 0l3 0l3-1l3 0l3 0l3 0l3 0l3 0l3 0l3 0l3 0l3 0l3 1l3 0l3 0l3 0l3 1l3 0l2 0l3 1l3 0l3 1l3 0l3 1l3 0l3 1l3 1l3 1l3 0l3 1l3 1l3 1l2 1l3 1l3 1l3 1l3 1l2 1l3 1l3 1l3 1l2 2l3 1l3 1l2 2l3 1l3 2l2 1l3 2l3 1l2 2l3 1l2 2l3 2l2 1l3 2l2 2l2 2l3 1l2 2l3 2l2 2l2 2l3 2l2 1l2 2l3 2l2 2l2 2l2 2l3 2l2 2l2 2l2 2l3 2l2 2l2 2l2 2l3 2l2 2l2 2l2 2l2 2l3 2l2 2l2 2l2 2l2 3l3 2l2 2l2 2l2 2l2 2l3 2l2 2l2 2l2 2l3 2l2 2l2 2l2 2l3 2l2 2l2 2l2 2l3 2l2 2l2 2l2 1l3 2l2 2l2 2l2 2l3 2l2 2l2 2l2 2l3 2l2 2l2 2l2 2l3 2l2 2l2 2l2 2l2 2l3 2l2 2l2 2l2 2l3 2l2 2l2 2l2 2l3 2l2 2l2 2l2 2l3 2l2 2l2 2l2 2l3 2l2 2l2 2l3 2l2 2l2 2l3 2l2 2l2 1l2 2l3 2l2 2l2 2l3 2l2 2l2 2l3 2l2 1l3 2l2 2l2 2l3 2l2 1l3 2l2 2l2 2l3 1l2 2l3 2l2 2l3 1l2 2l3 2l2 1l3 2l2 2l3 1l2 2l3 1l2 2l3 1l3 2l2 1l3 2l2 1l3 2l3 1l2 2l3 1l3 1l2 2l3 1l3 1l3 1l2 2l3 1l3 1l3 1l2 1l3 1l3 2l3 1l3 1l2 1l3 1l3 1l3 0l3 1l3 1l3 1l3 1l2 1l3 0l3 1l3 1l3 0l3 1l3 1l3 0l3 1l3 0l3 1l3 0l3 1l3 0l3 1l3 0l3 1l2 0l3 0l3 1l3 0l3 1l3 0l3 0l3 1l3 0l3 0l3 1l3 0l3 0l3 1l3 0l3 1l3 0l3 0l3 1l3 0l3 0l3 1l3 0l3 0l3 1l3 0l3 1l3 0l3 0l3 1l3 0l3 1l3 0l3 1l3 0l3 1l3 0l2 1l3 1l3 0l3 1l3 1l3 0l3 1l3 1l3 1l3 0l3 1l2 1l3 1l3 1l3 1l3 1l3 1l2 1l3 1l3 1l3 1l3 2" stroke-width="22" stroke-linejoin="round"/><path d="M170 1409l4 0l3 0l0-1l4 0l0-3l3 0l0-2l4 0l0-4l3 0l0-6l4 0l0-7l3 0l0-4l4 0l3 0l0 2l4 0l0-2l3 0l0-6l4 0l0-5l3 0l4 0l0 1l3 0l0-2l4 0l0-3l3 0l0-1l4 0l0 3l3 0l0-1l4 0l0-4l3 0l0-8l4 0l0-6l3 0l0-3l4 0l0-2l3 0l0-1l4 0l0-4l3 0l0-4l4 0l0-2l3 0l0-5l4 0l0-3l3 0l0-4l4 0l0-4l3 0l0-3l4 0l0-5l3 0l0-5l4 0l0-7l3 0l0-6l4 0l0-2l3 0l0-3l4 0l0-10l3 0l0-9l4 0l0-4l3 0l0-7l4 0l0-5l3 0l0-3l4 0l0-2l3 0l0-5l4 0l0-6l3 0l0-4l4 0l0-4l3 0l0-10l4 0l0-6l3 0l0 1l4 0l3 0l0-3l4 0l0-5l3 0l0-9l4 0l0-5l3 0l0-3l4 0l0-3l3 0l0-6l4 0l0-5l3 0l0-2l4 0l3 0l0-1l4 0l0-2l3 0l0-2l4 0l0-2l3 0l0-1l4 0l0 1l3 0l0-1l4 0l0-1l3 0l0-2l4 0l0-4l3 0l0-3l4 0l3 0l0-2l4 0l0-2l3 0l0 1l4 0l0 1l3 0l0-2l4 0l0 1l3 0l0 5l4 0l0 5l3 0l0 3l4 0l0 3l3 0l0 2l4 0l0-2l3 0l0-2l4 0l0-2l3 0l0-1l4 0l0 3l3 0l0 5l4 0l0 3l3 0l0-1l4 0l3 0l0 2l4 0l0 2l3 0l0 2l4 0l0 4l3 0l0 6l4 0l0 6l3 0l0 4l4 0l3 0l0-4l4 0l0-4l3 0l0-3l4 0l0-2l3 0l0 2l4 0l0 7l3 0l0 7l4 0l0 4l3 0l0 1l4 0l0 2l3 0l0 2l4 0l0 4l3 0l4 0l0-3l3 0l0 1l4 0l0 2l3 0l4 0l0 3l3 0l0-3l4 0l0-5l3 0l0 1l4 0l0 5l3 0l0 5l4 0l0 2l3 0l0-2l4 0l0-3l3 0l0 3l4 0l0 2l3 0l0-4l4 0l0-2l3 0l0 1l4 0l0 4l3 0l0-1l4 0l0-2l3 0l0-6l4 0l0-6l3 0l4 0l0 4l3 0l0 1l4 0l3 0l0 1l4 0l0-2l3 0l4 0l0 1l3 0l0-2l4 0l0-6l3 0l0-5l4 0l3 0l0-3l4 0l0-2l3 0l0 1l4 0l0 4l3 0l0 1l4 0l0-3l3 0l0-5l4 0l0-2l3 0l0 2l4 0l0 1l3 0l4 0l0-1l3 0l0-2l4 0l0-3l3 0l0-5l4 0l0-7l3 0l0-6l4 0l3 0l0 1l4 0l0-3l3 0l0-4l4 0l0-2l3 0l0-3l4 0l0-6l3 0l0-6l4 0l0-4l3 0l0-4l4 0l0-3l3 0l0-1l4 0l0-4l3 0l0-4l4 0l0-2l3 0l0-5l4 0l0-1l3 0l0-2l4 0l0-4l3 0l0-7l4 0l0-8l3 0l0-7l4 0l0-6l3 0l0-6l4 0l0-8l3 0l0-8l4 0l3 0l0 3l4 0l3 0l0-7l4 0l0-8l3 0l0-8l4 0l0-5l3 0l0-7l4 0l0-8l3 0l0-8l4 0l0-9l3 0l0-9l4 0l0-12l3 0l0-9l4 0l0-8l3 0l0-8l4 0l0-12l3 0l0-14l4 0l0-11l3 0l0-7l4 0l0-8l3 0l0-10l4 0l0-11l3 0l0-11l4 0l0-7l3 0l0-6l4 0l0-10l3 0l0-11l4 0l0-10l3 0l0-14l4 0l0-11l3 0l0-14l4 0l0-18l3 0l0-12l4 0l0-4l3 0l0-7l4 0l0-8l3 0l0-10l4 0l0-12l3 0l0-20l4 0l0-17l3 0l0-10l4 0l0-9l3 0l0-12l4 0l0-13l3 0l0-6l4 0l0-9l3 0l0-19l4 0l0-19l3 0l0-16l4 0l0-14l3 0l0-13l4 0l0-11l3 0l0-15l4 0l0-18l3 0l0-15l4 0l0-12l3 0l0-14l4 0l0-12l3 0l0-11l4 0l0-17l3 0l0-21l4 0l0-15l3 0l0-11l4 0l0-15l3 0l0-17l4 0l0-12l3 0l0-14l4 0l0-19l3 0l0-21l4 0l0-13l3 0l0-10l4 0l0-15l3 0l0-18l4 0l0-21l3 0l0-17l4 0l0-14l3 0l0-15l4 0l0-13l3 0l0-10l4 0l0-13l3 0l0-14l4 0l0-15l3 0l0-16l4 0l0-14l3 0l0-9l4 0l0-3l3 0l0 5l4 0l0 10l3 0l0 9l4 0l0 13l3 0l0 17l4 0l0 10l3 0l0 6l4 0l0 12l3 0l0 21l4 0l0 22l3 0l0 21l4 0l0 21l3 0l0 21l4 0l0 23l3 0l0 21l4 0l0 24l3 0l0 27l4 0l0 25l3 0l0 23l4 0l0 21l3 0l0 18l4 0l0 18l3 0l0 21l4 0l0 26l3 0l0 20l4 0l0 19l3 0l0 21l4 0l0 21l3 0l0 19l4 0l0 14l3 0l0 15l4 0l0 22l3 0l0 24l4 0l0 18l3 0l0 13l4 0l0 14l3 0l0 13l4 0l0 11l3 0l0 13l4 0l0 14l3 0l0 8l4 0l0 7l3 0l0 9l4 0l0 9l3 0l0 10l4 0l0 10l3 0l0 8l4 0l0 7l3 0l0 5l4 0l0 6l3 0l0 9l4 0l0 7l3 0l0 5l4 0l0 3l3 0l0 3l4 0l0 4l3 0l0 8l4 0l0 6l3 0l0 3l4 0l0 1l3 0l0 2l4 0l0 4l3 0l0 3l4 0l0 4l3 0l0 3l4 0l0-2l3 0l0-3l4 0l3 0l0 7l4 0l0 7l3 0l0 2l4 0l0-1l3 0l0 2l4 0l0 2l3 0l0 4l4 0l0 4l3 0l4 0l0-1l3 0l0 3l4 0l0 2l3 0l0 1l4 0l0 1l3 0l0 1l4 0l0-1l3 0l4 0l0 4l3 0l0 4l4 0l3 0l0 2l4 0l0 4l3 0l0 3l4 0l0 1l3 0l0-3l4 0l0-3l3 0l4 0l0-2l3 0l0-1l4 0l0 1l3 0l0 5l4 0l0 2l3 0l0-1l4 0l3 0l0-1l4 0l0-2l3 0l0 1l4 0l0-1l3 0l0-1l4 0l3 0l0 1l4 0l0 1l3 0l0 1l4 0l0-2l3 0l0-4l4 0l0-1l3 0l4 0l0 1l3 0l0 3l4 0l0 3l3 0l0-3l4 0l0-3l3 0l0 5l4 0l0 5l3 0l0-1l4 0l0-4l3 0l0-6l4 0l0-2l3 0l0 1l4 0l0 1l3 0l0 1l4 0l0 4l3 0l0 3l4 0l0 1l3 0l0-1l4 0l0-2l3 0l4 0l3 0l0 1l4 0l3 0l0-2l4 0l3 0l0 1l4 0l0 2l3 0l0-3l4 0l0-5l3 0l0 6l4 0l0 3l3 0l0-3l4 0l0-1l3 0l0 2l4 0l0 3l3 0l0 5l4 0l0-1l3 0l0-3l4 0l0 1l3 0l0 2l4 0l0-4l3 0l0-4l4 0l0 2l3 0l0 3l4 0l0 4l3 0l0 3l4 0l0 3l3 0l0 3l4 0l0 1l3 0l0 2l4 0l3 0l0 2l4 0l0-1l3 0l4 0l0 1l3 0l0-1l4 0l3 0l0 2l4 0l0 3l3 0l4 0l0 2l3 0l0 6l4 0l0 6l3 0l0 4l4 0l0 1l3 0l0-1l4 0l0 3l3 0l0 2l4 0l0-1l3 0l0 3l4 0l0 7l3 0l0 4l4 0l0 4l3 0l0 6l4 0l0 6l3 0l0 4l4 0l0 6l3 0l0 4l4 0l0 3l3 0l0 1l4 0l0 3l3 0l4 0l0-3l3 0l0 3l4 0l0 4l3 0l0 1l4 0l0 5l3 0l0 6l4 0l0 6l3 0l0 4l4 0l0 2l3 0l0 2l4 0l0 4l3 0l0 4l4 0l0 3l3 0l0 3l4 0l0 4l3 0l0 5l4 0l0 3l3 0l0 3l4 0l0 3l3 0l0 1l4 0l0 2l3 0l0 5l4 0l0 5l3 0l0 3l4 0l0 1l3 0l0 2l4 0l0 3l3 0l4 0l0 1l3 0l0 3l4 0l0 5l3 0l0 4l4 0l0 3l3 0l0 5l4 0l3 0l0-1l4 0l0 3l3 0l0 5l4 0l0 4l3 0l4 0l3 0l0 3l4 0l0 3l3 0l0 3l4 0l0 3l3 0l0 4l4 0l0 5l3 0l0 4l4 0l0 4l3 0l0 2l4 0l0 3l3 0l0 2l4 0l0 3l3 0l0 5l4 0l0 5l3 0l0 3l4 0l0 1l3 0l0 2l4 0l0 3l3 0l0 3l4 0l0 3l3 0l0 3l4 0l0 3l3 0l0 1l4 0l3 0l4 0l0 3l3 0l0 4l4 0l0 5l3 0l0 3l4 0l0 1l3 0l4 0l0 3l3 0l0 4l4 0l0 1l3 0l0-2l4 0l3 0l0 2l4 0l3 0l0-2l4 0l3 0l0 4l4 0l0 2l3 0l0-2l4 0l0 1l3 0l0 3l4 0l0 1l3 0l0 2l4 0l0 3l3 0l0 1l4 0l3 0l4 0l0 1l3 0l0 2l4 0l0 4l3 0l0 1l4 0l3 0l0 1l4 0l0-1l3 0l0-2l4 0l0-1l3 0l0 1l4 0l3 0l4 0l0 1l3 0l0 1l4 0l3 0l0 2l4 0l0 2l3 0l0-1l4 0l3 0l4 0l0-1l3 0l0-1l4 0l3 0l0 1l4 0l0 2l3 0l0 2l4 0l0 1l3 0l4 0l3 0l0 1l4 0l0 1l3 0l0 1l4 0l0 1l3 0l4 0l0-1l3 0l4 0l0-1l3 0l0 1l4 0l0 3l3 0l0 2l4 0l0 2l3 0l0 1l4 0l0-1l3 0l0-2l4 0l3 0l0 1l4 0l3 0l0 2l4 0l0 2l3 0l4 0l3 0l0 2l4 0l0 1l3 0l0 3l4 0l0 3l3 0l0 2l4 0l0 3l3 0l0 1l4 0l0 28l-4 0l0-1l-3 0l0-2l-4 0l0-3l-3 0l0-1l-4 0l0-3l-3 0l0-3l-4 0l0-2l-3 0l-4 0l0 1l-3 0l0-1l-4 0l0-3l-3 0l0-2l-4 0l0 1l-3 0l0 2l-4 0l0 1l-3 0l0-2l-4 0l0-1l-3 0l0-1l-4 0l0-2l-3 0l0-2l-4 0l-3 0l0 1l-4 0l0-2l-3 0l0-2l-4 0l0-1l-3 0l-4 0l0 1l-3 0l0 3l-4 0l0-1l-3 0l0-1l-4 0l0-1l-3 0l0-1l-4 0l0-2l-3 0l-4 0l-3 0l0-1l-4 0l0-1l-3 0l0 1l-4 0l0 1l-3 0l0-1l-4 0l0-3l-3 0l-4 0l0-1l-3 0l0-2l-4 0l0-1l-3 0l-4 0l-3 0l-4 0l0 2l-3 0l0-3l-4 0l-3 0l-4 0l-3 0l-4 0l0-2l-3 0l0-1l-4 0l0-1l-3 0l-4 0l-3 0l0 1l-4 0l-3 0l0 1l-4 0l0 3l-3 0l-4 0l0-4l-3 0l0-2l-4 0l0-2l-3 0l0-3l-4 0l0-4l-3 0l0-1l-4 0l0 3l-3 0l0-1l-4 0l0-3l-3 0l0-2l-4 0l0-1l-3 0l0-1l-4 0l0-3l-3 0l0-2l-4 0l0 1l-3 0l0 2l-4 0l0-1l-3 0l0-4l-4 0l0-2l-3 0l0 1l-4 0l0-2l-3 0l0-3l-4 0l0-1l-3 0l0-3l-4 0l0-4l-3 0l0-3l-4 0l-3 0l0-1l-4 0l0 1l-3 0l0-2l-4 0l0-7l-3 0l0-7l-4 0l0-3l-3 0l0-2l-4 0l0-2l-3 0l0-2l-4 0l0-4l-3 0l0-3l-4 0l0-2l-3 0l0-3l-4 0l0-2l-3 0l0-3l-4 0l0-2l-3 0l0 2l-4 0l0-1l-3 0l0-2l-4 0l0-3l-3 0l0-6l-4 0l0-5l-3 0l0-5l-4 0l0-5l-3 0l0-2l-4 0l-3 0l-4 0l0-1l-3 0l0-4l-4 0l0-6l-3 0l0-5l-4 0l0-2l-3 0l0-3l-4 0l0-4l-3 0l0-1l-4 0l0-3l-3 0l0-3l-4 0l0-1l-3 0l0-5l-4 0l0-7l-3 0l0-7l-4 0l0-2l-3 0l0-3l-4 0l0-4l-3 0l0-3l-4 0l0-2l-3 0l0-3l-4 0l0-3l-3 0l0-2l-4 0l0-2l-3 0l0-1l-4 0l0-4l-3 0l0-5l-4 0l0-3l-3 0l0-3l-4 0l0-4l-3 0l0-3l-4 0l-3 0l0-4l-4 0l0-7l-3 0l0-3l-4 0l0-3l-3 0l0-3l-4 0l0-3l-3 0l0-2l-4 0l0-3l-3 0l0-3l-4 0l0-3l-3 0l0-1l-4 0l0-4l-3 0l0-8l-4 0l0-3l-3 0l0-2l-4 0l0 2l-3 0l0-1l-4 0l0-5l-3 0l0-5l-4 0l0-4l-3 0l0-5l-4 0l0-4l-3 0l0 1l-4 0l-3 0l0-3l-4 0l0-2l-3 0l0-3l-4 0l0-3l-3 0l-4 0l0 2l-3 0l0 2l-4 0l-3 0l-4 0l0-2l-3 0l0-4l-4 0l0-2l-3 0l0-2l-4 0l0-3l-3 0l0-4l-4 0l0 1l-3 0l0 1l-4 0l0-2l-3 0l0-4l-4 0l0-2l-3 0l0-2l-4 0l-3 0l0-2l-4 0l0-3l-3 0l0-2l-4 0l0-1l-3 0l0-2l-4 0l0 2l-3 0l0 5l-4 0l0 1l-3 0l0-1l-4 0l0-1l-3 0l0-3l-4 0l0-2l-3 0l0 7l-4 0l0 5l-3 0l0-4l-4 0l0-4l-3 0l0 3l-4 0l0 4l-3 0l0 1l-4 0l0-2l-3 0l0-1l-4 0l-3 0l0-2l-4 0l0-6l-3 0l0-6l-4 0l0 1l-3 0l0 2l-4 0l0 1l-3 0l0 2l-4 0l0 5l-3 0l0 2l-4 0l-3 0l0 1l-4 0l0 1l-3 0l0 3l-4 0l0 3l-3 0l0-1l-4 0l0-4l-3 0l0-3l-4 0l0-2l-3 0l0 1l-4 0l-3 0l0 1l-4 0l-3 0l0-1l-4 0l-3 0l0 1l-4 0l0 2l-3 0l0 2l-4 0l0-2l-3 0l0-2l-4 0l0-2l-3 0l0-3l-4 0l0-2l-3 0l-4 0l0 1l-3 0l0 1l-4 0l0 1l-3 0l-4 0l-3 0l-4 0l0-3l-3 0l0-3l-4 0l-3 0l0 3l-4 0l0 4l-3 0l0 3l-4 0l0-2l-3 0l0 1l-4 0l0 1l-3 0l0-3l-4 0l-3 0l0 1l-4 0l0 2l-3 0l0 2l-4 0l0-7l-3 0l0-9l-4 0l0-3l-3 0l0 2l-4 0l-3 0l0-4l-4 0l0-6l-3 0l0-7l-4 0l0-5l-3 0l0-1l-4 0l0-2l-3 0l0-3l-4 0l0-4l-3 0l0-5l-4 0l0-5l-3 0l0-1l-4 0l-3 0l0-5l-4 0l0-3l-3 0l0-1l-4 0l0-7l-3 0l0-6l-4 0l0-2l-3 0l0-5l-4 0l0-8l-3 0l0-7l-4 0l0-5l-3 0l0-2l-4 0l0-5l-3 0l0-8l-4 0l0-7l-3 0l0-7l-4 0l0-11l-3 0l0-9l-4 0l0-7l-3 0l0-8l-4 0l0-11l-3 0l0-11l-4 0l0-13l-3 0l0-10l-4 0l0-8l-3 0l0-17l-4 0l0-22l-3 0l0-17l-4 0l0-16l-3 0l0-22l-4 0l0-20l-3 0l0-15l-4 0l0-15l-3 0l0-25l-4 0l0-28l-3 0l0-23l-4 0l0-18l-3 0l0-18l-4 0l0-18l-3 0l0-21l-4 0l0-23l-3 0l0-25l-4 0l0-23l-3 0l0-22l-4 0l0-22l-3 0l0-23l-4 0l0-23l-3 0l0-22l-4 0l0-24l-3 0l0-21l-4 0l0-22l-3 0l0-19l-4 0l0-15l-3 0l0-12l-4 0l0-13l-3 0l0-11l-4 0l0-12l-3 0l0-12l-4 0l0-9l-3 0l0-9l-4 0l0-6l-3 0l0 7l-4 0l0 12l-3 0l0 15l-4 0l0 11l-3 0l0 10l-4 0l0 11l-3 0l0 13l-4 0l0 13l-3 0l0 13l-4 0l0 14l-3 0l0 15l-4 0l0 18l-3 0l0 19l-4 0l0 18l-3 0l0 18l-4 0l0 14l-3 0l0 13l-4 0l0 17l-3 0l0 18l-4 0l0 17l-3 0l0 15l-4 0l0 14l-3 0l0 14l-4 0l0 12l-3 0l0 13l-4 0l0 18l-3 0l0 12l-4 0l0 14l-3 0l0 16l-4 0l0 15l-3 0l0 15l-4 0l0 14l-3 0l0 15l-4 0l0 15l-3 0l0 18l-4 0l0 17l-3 0l0 16l-4 0l0 13l-3 0l0 12l-4 0l0 10l-3 0l0 9l-4 0l0 15l-3 0l0 20l-4 0l0 15l-3 0l0 9l-4 0l0 10l-3 0l0 12l-4 0l0 9l-3 0l0 6l-4 0l0 9l-3 0l0 13l-4 0l0 13l-3 0l0 10l-4 0l0 11l-3 0l0 11l-4 0l0 12l-3 0l0 9l-4 0l0 8l-3 0l0 11l-4 0l0 11l-3 0l0 10l-4 0l0 11l-3 0l0 12l-4 0l0 14l-3 0l0 16l-4 0l0 16l-3 0l0 11l-4 0l0 4l-3 0l0 1l-4 0l0 4l-3 0l0 10l-4 0l0 9l-3 0l0 9l-4 0l0 7l-3 0l0 9l-4 0l0 11l-3 0l0 12l-4 0l0 9l-3 0l0 8l-4 0l0 6l-3 0l0 8l-4 0l0 9l-3 0l0 7l-4 0l0 3l-3 0l0 3l-4 0l0 8l-3 0l0 9l-4 0l0 3l-3 0l0 1l-4 0l0 5l-3 0l0 1l-4 0l0 6l-3 0l0 7l-4 0l0 6l-3 0l0 3l-4 0l0 4l-3 0l0 6l-4 0l0 6l-3 0l0 5l-4 0l0 5l-3 0l0 4l-4 0l0-2l-3 0l0-2l-4 0l0 4l-3 0l0 8l-4 0l0 7l-3 0l0 3l-4 0l0 2l-3 0l0 3l-4 0l0 6l-3 0l0 6l-4 0l0 5l-3 0l-4 0l0-2l-3 0l0 1l-4 0l0 3l-3 0l0 4l-4 0l-3 0l0-2l-4 0l0 1l-3 0l-4 0l0-2l-3 0l0 4l-4 0l0 8l-3 0l0 6l-4 0l-3 0l0-1l-4 0l-3 0l0-1l-4 0l0 1l-3 0l0 1l-4 0l0-1l-3 0l-4 0l-3 0l-4 0l-3 0l0 2l-4 0l0 1l-3 0l0 1l-4 0l0 2l-3 0l0 2l-4 0l0 1l-3 0l0 2l-4 0l0 2l-3 0l0 3l-4 0l0 4l-3 0l0 4l-4 0l-3 0l0-3l-4 0l0-3l-3 0l0-1l-4 0l-3 0l0-2l-4 0l0-4l-3 0l0-5l-4 0l0-1l-3 0l0-1l-4 0l0-1l-3 0l0 3l-4 0l0 5l-3 0l0-1l-4 0l0-3l-3 0l0-3l-4 0l0-5l-3 0l0 1l-4 0l0-1l-3 0l0-2l-4 0l0 1l-3 0l0 1l-4 0l0 2l-3 0l0 2l-4 0l-3 0l0-5l-4 0l0-6l-3 0l0-3l-4 0l0 1l-3 0l0 2l-4 0l0 2l-3 0l0-5l-4 0l0-5l-3 0l0-1l-4 0l0-1l-3 0l0-5l-4 0l0-5l-3 0l0-4l-4 0l0-3l-3 0l0-1l-4 0l0 2l-3 0l0-1l-4 0l0-5l-3 0l0-2l-4 0l0-2l-3 0l-4 0l-3 0l-4 0l0-1l-3 0l-4 0l0-1l-3 0l-4 0l0 2l-3 0l0-4l-4 0l0-2l-3 0l0 4l-4 0l0 4l-3 0l0-3l-4 0l0-2l-3 0l0 5l-4 0l0 5l-3 0l0-2l-4 0l0-3l-3 0l0-3l-4 0l0 2l-3 0l0 4l-4 0l0 6l-3 0l0 3l-4 0l0 4l-3 0l-4 0l0-1l-3 0l-4 0l-3 0l0 2l-4 0l0 6l-3 0l0 3l-4 0l0 6l-3 0l0 6l-4 0l0 6l-3 0l0 10l-4 0l0 11l-3 0l0 2l-4 0l0-1l-3 0l0 5l-4 0l0 9l-3 0l0 6l-4 0l0 2l-3 0l-4 0l0-1l-3 0l0 2l-4 0l0 6l-3 0l0 7l-4 0l0 7l-3 0l0 6l-4 0l0 5l-3 0l0 6l-4 0l0 7l-3 0l0 7l-4 0l0 4l-3 0l0 4l-4 0l0 7l-3 0l0 5l-4 0l0 3l-3 0l0 3l-4 0l0-1l-3 0l0 1l-4 0l0 6l-3 0l0 7l-4 0l0 6l-3 0l0 2l-4 0l0-2l-3 0l0 3l-4 0l0 8l-3 0l0 8l-4 0l0 2l-3 0l0-1l-4 0l-3 0l0 2l-4 0l0 4l-3 0l0 3l-4 0l0 1l-3 0l0 4l-4 0l0 4l-3 0l0 2l-4 0l0 5l-3 0l0 4l-4 0l0 4l-3 0l0 3l-4 0l0 3l-3 0l0 2l-4 0l0-1l-3 0l0-2l-4 0l-3 0l0 1l-4 0l0-1l-3 0l-4 0z" stroke="none" fill="#008000"/></g>
</g>
<line x1="443.5" y1="47.55" x2="443.5" y2="1655" stroke="#000" stroke-width="11" stroke-dasharray="11 12.25"/>
<line x1="1169" y1="47.55" x2="1169" y2="1655" stroke="#000" stroke-width="11" stroke-dasharray="11 12.25"/>
<line x1="1684" y1="47.55" x2="1684" y2="1655" stroke="#000" stroke-width="11" stroke-dasharray="11 12.25"/>
<rect x="172" y="39.5" width="2202" height="3.5" fill="#9a9a9a"/>
<rect x="179" y="1651.5" width="2187" height="3.5" fill="#9a9a9a"/>
<rect x="168" y="43" width="2209" height="11" fill="#000"/>
<rect x="168" y="1655" width="2209" height="11" fill="#000"/>
<rect x="168" y="43" width="11" height="1639" fill="#000"/>
<rect x="2366" y="43" width="8" height="1655" fill="#000"/>
<rect x="2374" y="43" width="3" height="1655" fill="#707070"/>
<rect x="481.4" y="1660" width="12" height="38" fill="#000"/>
<rect x="1109.3" y="1660" width="12" height="38" fill="#000"/>
<rect x="1737.2" y="1660" width="12" height="38" fill="#000"/>
<rect x="795.4" y="1660" width="12" height="23" fill="#000"/>
<rect x="1423.2" y="1660" width="12" height="23" fill="#000"/>
<rect x="2051.1" y="1660" width="12" height="23" fill="#000"/>
<rect x="1972" y="570" width="10" height="515" fill="#000"/>
<polygon points="1977,507 1995.5,576 1958.5,576" fill="#000"/>
<text transform="matrix(1.0300 0 0 1.0500 430.31 1798.00)" style="font-family:'Liberation Sans',Arial,sans-serif;font-weight:bold;font-size:100px">10</text>
<text transform="matrix(1.0300 0 0 1.0500 1057.35 1797.90)" style="font-family:'Liberation Sans',Arial,sans-serif;font-weight:bold;font-size:100px">20</text>
<text transform="matrix(1.0300 0 0 1.0500 1684.46 1798.00)" style="font-family:'Liberation Sans',Arial,sans-serif;font-weight:bold;font-size:100px">30</text>
<text transform="matrix(1.0300 0 0 1.0500 2311.36 1797.10)" style="font-family:'Liberation Sans',Arial,sans-serif;font-weight:bold;font-size:100px">40</text>
<text transform="matrix(1.0645 0 0 1.0319 959.51 1944.33)" style="font-family:'Liberation Sans',Arial,sans-serif;font-weight:bold;font-size:100px">2θ (degree)</text>
<text transform="matrix(0 -1.0794 1.0745 0 101.44 1079.56)" style="font-family:'Liberation Sans',Arial,sans-serif;font-weight:bold;font-size:100px">Intensity</text>
<text transform="matrix(1.0000 0 0 0.9532 1208.00 152.58)" style="font-family:'Liberation Sans',Arial,sans-serif;font-weight:bold;font-size:100px">(120)</text>
<text transform="matrix(0.9879 0 0 0.9574 453.76 1119.89)" style="font-family:'Liberation Sans',Arial,sans-serif;font-weight:bold;font-size:100px">(100)</text>
<text transform="matrix(0.9737 0 0 0.9117 1711.43 903.55)" style="font-family:'Liberation Sans',Arial,sans-serif;font-weight:bold;font-size:100px">(300)</text>
<text transform="matrix(0.9922 0 0 1.0141 2086.03 591.99)" style="font-family:'Liberation Sans',Arial,sans-serif;font-weight:bold;font-size:100px">G4</text>
<text transform="matrix(1.0032 0 0 1.0394 2080.59 718.56)" style="font-family:'Liberation Sans',Arial,sans-serif;font-weight:bold;font-size:100px">G3</text>
<text transform="matrix(0.9952 0 0 1.0141 2080.62 844.99)" style="font-family:'Liberation Sans',Arial,sans-serif;font-weight:bold;font-size:100px">G2</text>
<text transform="matrix(1.0000 0 0 1.0394 2080.60 971.46)" style="font-family:'Liberation Sans',Arial,sans-serif;font-weight:bold;font-size:100px">G1</text>
<text transform="matrix(0.9956 0 0 0.9730 1998.02 1096.03)" style="font-family:'Liberation Sans',Arial,sans-serif;font-weight:bold;font-size:100px">Control</text>
</svg>
</body></html>
